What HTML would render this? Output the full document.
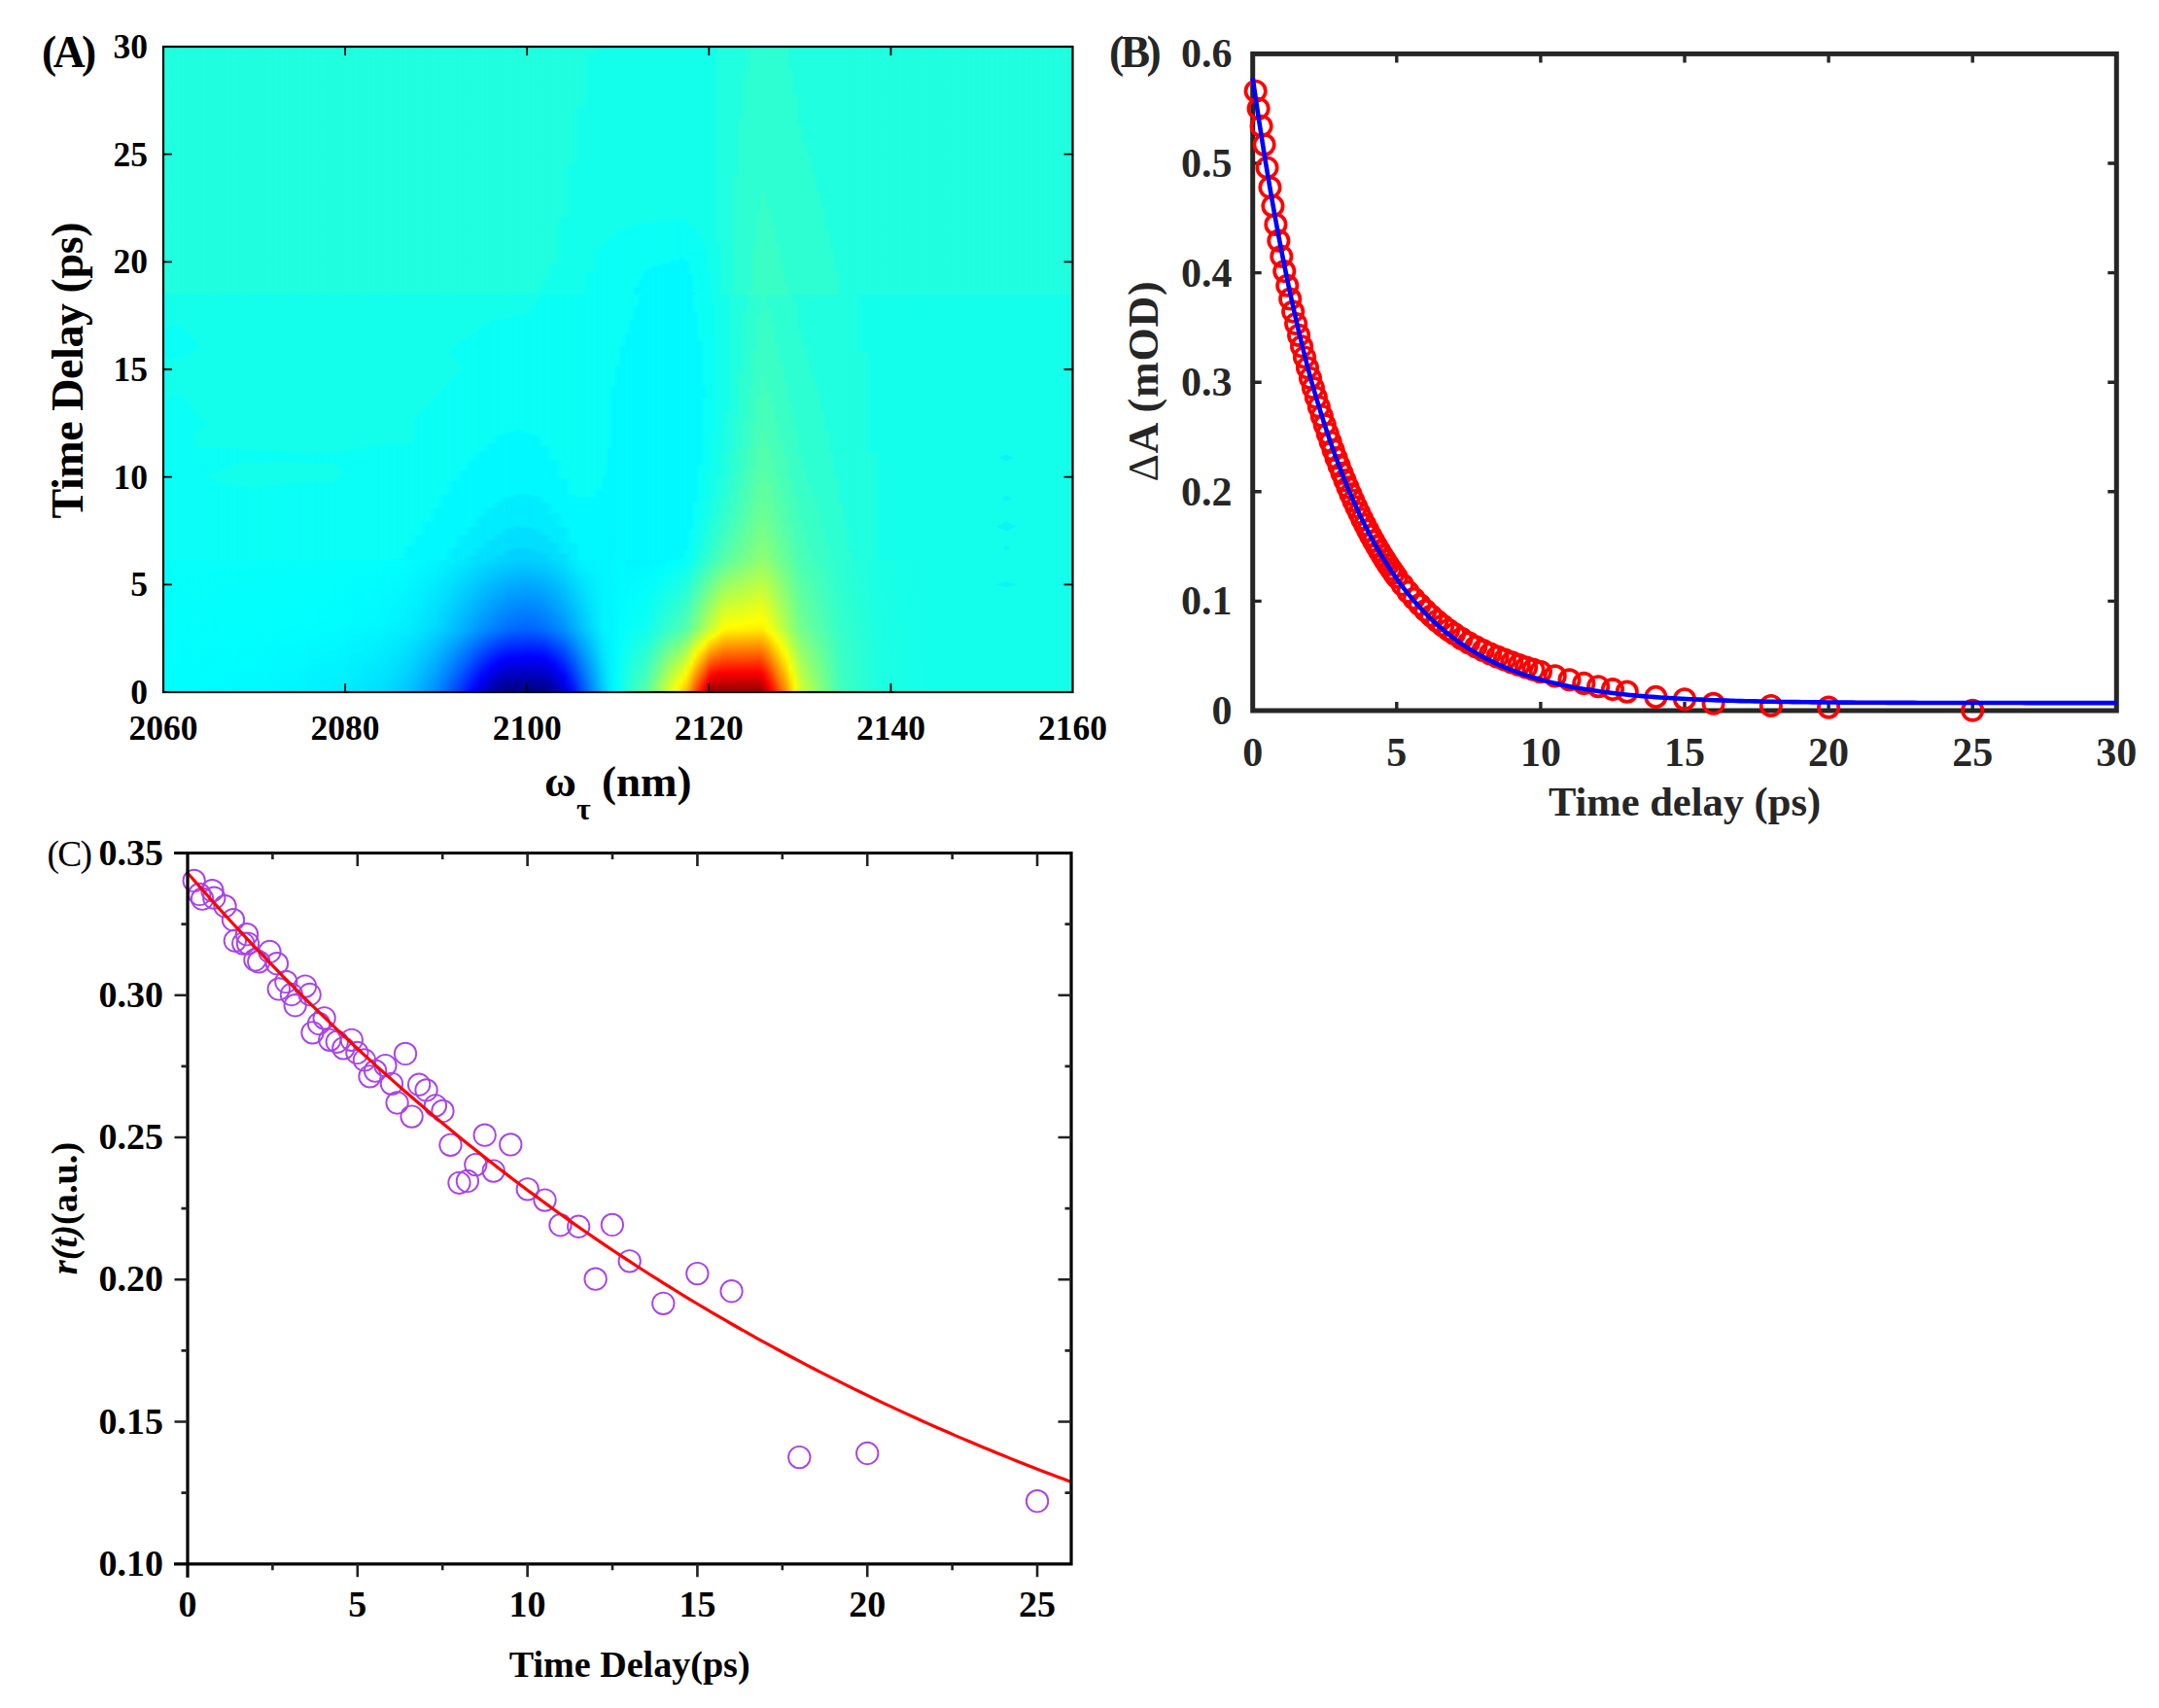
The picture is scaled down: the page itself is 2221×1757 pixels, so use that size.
<!DOCTYPE html>
<html><head><meta charset="utf-8"><title>figure</title>
<style>html,body{margin:0;padding:0;background:#fff;width:2221px;height:1757px;overflow:hidden}svg{display:block}text{font-family:"Liberation Serif","DejaVu Serif",serif;font-weight:bold}</style></head>
<body>
<svg width="2221" height="1757" viewBox="0 0 2221 1757">
<rect width="2221" height="1757" fill="#fff"/>
<defs>
<linearGradient id="h0" x1="0" y1="1" x2="0" y2="0"><stop offset="0" stop-color="#00ffff"/><stop offset=".205" stop-color="#06fff9"/><stop offset=".205" stop-color="#0afff5"/><stop offset=".6167" stop-color="#0afff5"/><stop offset=".6167" stop-color="#20ffdf"/><stop offset="1" stop-color="#20ffdf"/></linearGradient>
<linearGradient id="h1" x1="0" y1="1" x2="0" y2="0"><stop offset="0" stop-color="#00fdff"/><stop offset=".1625" stop-color="#05fffa"/><stop offset=".205" stop-color="#06fff9"/><stop offset=".205" stop-color="#0afff5"/><stop offset=".6167" stop-color="#0afff5"/><stop offset=".6167" stop-color="#20ffdf"/><stop offset="1" stop-color="#20ffdf"/></linearGradient>
<linearGradient id="h2" x1="0" y1="1" x2="0" y2="0"><stop offset="0" stop-color="#00fbff"/><stop offset=".0917" stop-color="#02fffd"/><stop offset=".205" stop-color="#06fff9"/><stop offset=".205" stop-color="#0afff5"/><stop offset=".6167" stop-color="#0afff5"/><stop offset=".6167" stop-color="#20ffdf"/><stop offset="1" stop-color="#20ffdf"/></linearGradient>
<linearGradient id="h3" x1="0" y1="1" x2="0" y2="0"><stop offset="0" stop-color="#00f8ff"/><stop offset=".1" stop-color="#02fffd"/><stop offset=".205" stop-color="#05fffa"/><stop offset=".205" stop-color="#0afff5"/><stop offset=".6167" stop-color="#0afff5"/><stop offset=".6167" stop-color="#20ffdf"/><stop offset="1" stop-color="#20ffdf"/></linearGradient>
<linearGradient id="h4" x1="0" y1="1" x2="0" y2="0"><stop offset="0" stop-color="#00f3ff"/><stop offset=".1125" stop-color="#01fffe"/><stop offset=".205" stop-color="#05fffa"/><stop offset=".205" stop-color="#0afff5"/><stop offset=".6167" stop-color="#0afff5"/><stop offset=".6167" stop-color="#20ffdf"/><stop offset="1" stop-color="#20ffdf"/></linearGradient>
<linearGradient id="h5" x1="0" y1="1" x2="0" y2="0"><stop offset="0" stop-color="#00ecff"/><stop offset=".1125" stop-color="#00fdff"/><stop offset=".205" stop-color="#04fffb"/><stop offset=".205" stop-color="#0afff5"/><stop offset=".6167" stop-color="#0afff5"/><stop offset=".6167" stop-color="#20ffdf"/><stop offset="1" stop-color="#20ffdf"/></linearGradient>
<linearGradient id="h6" x1="0" y1="1" x2="0" y2="0"><stop offset="0" stop-color="#00ddff"/><stop offset=".1083" stop-color="#00f8ff"/><stop offset=".205" stop-color="#02fffd"/><stop offset=".205" stop-color="#0afff5"/><stop offset=".6167" stop-color="#0afff5"/><stop offset=".6167" stop-color="#20ffdf"/><stop offset="1" stop-color="#20ffdf"/></linearGradient>
<linearGradient id="h7" x1="0" y1="1" x2="0" y2="0"><stop offset="0" stop-color="#00d6ff"/><stop offset=".1042" stop-color="#00f5ff"/><stop offset=".205" stop-color="#01fffe"/><stop offset=".205" stop-color="#0afff5"/><stop offset=".6167" stop-color="#0afff5"/><stop offset=".6167" stop-color="#20ffdf"/><stop offset="1" stop-color="#20ffdf"/></linearGradient>
<linearGradient id="h8" x1="0" y1="1" x2="0" y2="0"><stop offset="0" stop-color="#00ceff"/><stop offset=".1042" stop-color="#00f2ff"/><stop offset=".205" stop-color="#00ffff"/><stop offset=".205" stop-color="#00f9ff"/><stop offset=".2083" stop-color="#0afff5"/><stop offset=".6167" stop-color="#0afff5"/><stop offset=".6167" stop-color="#20ffdf"/><stop offset="1" stop-color="#20ffdf"/></linearGradient>
<linearGradient id="h9" x1="0" y1="1" x2="0" y2="0"><stop offset="0" stop-color="#00c2ff"/><stop offset=".1" stop-color="#00edff"/><stop offset=".205" stop-color="#00fdff"/><stop offset=".205" stop-color="#00f9ff"/><stop offset=".225" stop-color="#00f9ff"/><stop offset=".2292" stop-color="#0afff5"/><stop offset=".6167" stop-color="#0afff5"/><stop offset=".6167" stop-color="#20ffdf"/><stop offset="1" stop-color="#20ffdf"/></linearGradient>
<linearGradient id="h10" x1="0" y1="1" x2="0" y2="0"><stop offset="0" stop-color="#00b3ff"/><stop offset=".1" stop-color="#00e7ff"/><stop offset=".205" stop-color="#00fbff"/><stop offset=".205" stop-color="#00f9ff"/><stop offset=".2417" stop-color="#00f9ff"/><stop offset=".2458" stop-color="#0afff5"/><stop offset=".6167" stop-color="#0afff5"/><stop offset=".6167" stop-color="#20ffdf"/><stop offset="1" stop-color="#20ffdf"/></linearGradient>
<linearGradient id="h11" x1="0" y1="1" x2="0" y2="0"><stop offset="0" stop-color="#00a0ff"/><stop offset=".1" stop-color="#00e0ff"/><stop offset=".2083" stop-color="#00f9ff"/><stop offset=".2625" stop-color="#00f9ff"/><stop offset=".2667" stop-color="#0afff5"/><stop offset=".6167" stop-color="#0afff5"/><stop offset=".6167" stop-color="#20ffdf"/><stop offset="1" stop-color="#20ffdf"/></linearGradient>
<linearGradient id="h12" x1="0" y1="1" x2="0" y2="0"><stop offset="0" stop-color="#0089ff"/><stop offset=".1" stop-color="#00d8ff"/><stop offset=".205" stop-color="#00f6ff"/><stop offset=".205" stop-color="#00f9ff"/><stop offset=".2833" stop-color="#00f9ff"/><stop offset=".2875" stop-color="#0afff5"/><stop offset=".6167" stop-color="#0afff5"/><stop offset=".6167" stop-color="#20ffdf"/><stop offset="1" stop-color="#20ffdf"/></linearGradient>
<linearGradient id="h13" x1="0" y1="1" x2="0" y2="0"><stop offset="0" stop-color="#006dff"/><stop offset=".1" stop-color="#00cdff"/><stop offset=".205" stop-color="#00f2ff"/><stop offset=".205" stop-color="#00f9ff"/><stop offset=".3042" stop-color="#00f9ff"/><stop offset=".3083" stop-color="#0afff5"/><stop offset=".6167" stop-color="#0afff5"/><stop offset=".6167" stop-color="#20ffdf"/><stop offset="1" stop-color="#20ffdf"/></linearGradient>
<linearGradient id="h14" x1="0" y1="1" x2="0" y2="0"><stop offset="0" stop-color="#004cff"/><stop offset=".0958" stop-color="#00beff"/><stop offset=".205" stop-color="#00eeff"/><stop offset=".205" stop-color="#00ecff"/><stop offset=".2208" stop-color="#00ecff"/><stop offset=".225" stop-color="#00f9ff"/><stop offset=".325" stop-color="#00f9ff"/><stop offset=".3292" stop-color="#0afff5"/><stop offset=".6167" stop-color="#0afff5"/><stop offset=".6167" stop-color="#20ffdf"/><stop offset="1" stop-color="#20ffdf"/></linearGradient>
<linearGradient id="h15" x1="0" y1="1" x2="0" y2="0"><stop offset="0" stop-color="#0027ff"/><stop offset=".0958" stop-color="#00afff"/><stop offset=".1917" stop-color="#00e2ff"/><stop offset=".205" stop-color="#00e9ff"/><stop offset=".205" stop-color="#00ecff"/><stop offset=".2417" stop-color="#00ecff"/><stop offset=".2458" stop-color="#00f9ff"/><stop offset=".3417" stop-color="#00f9ff"/><stop offset=".3458" stop-color="#0afff5"/><stop offset=".6167" stop-color="#0afff5"/><stop offset=".6167" stop-color="#20ffdf"/><stop offset="1" stop-color="#20ffdf"/></linearGradient>
<linearGradient id="h16" x1="0" y1="1" x2="0" y2="0"><stop offset="0" stop-color="#0000fe"/><stop offset=".0958" stop-color="#00a0ff"/><stop offset=".1167" stop-color="#00afff"/><stop offset=".205" stop-color="#00e4ff"/><stop offset=".205" stop-color="#00dfff"/><stop offset=".2083" stop-color="#00dfff"/><stop offset=".2125" stop-color="#00ecff"/><stop offset=".2542" stop-color="#00ecff"/><stop offset=".2583" stop-color="#00f9ff"/><stop offset=".3583" stop-color="#00f9ff"/><stop offset=".3625" stop-color="#0afff5"/><stop offset=".6167" stop-color="#0afff5"/><stop offset=".6167" stop-color="#20ffdf"/><stop offset="1" stop-color="#20ffdf"/></linearGradient>
<linearGradient id="h17" x1="0" y1="1" x2="0" y2="0"><stop offset="0" stop-color="#0000d5"/><stop offset=".0208" stop-color="#0000fd"/><stop offset=".0958" stop-color="#0090ff"/><stop offset=".1083" stop-color="#009bff"/><stop offset=".205" stop-color="#00dfff"/><stop offset=".2208" stop-color="#00dfff"/><stop offset=".225" stop-color="#00ecff"/><stop offset=".2708" stop-color="#00ecff"/><stop offset=".275" stop-color="#00f9ff"/><stop offset=".3708" stop-color="#00f9ff"/><stop offset=".375" stop-color="#0afff5"/><stop offset=".6167" stop-color="#0afff5"/><stop offset=".6167" stop-color="#20ffdf"/><stop offset="1" stop-color="#20ffdf"/></linearGradient>
<linearGradient id="h18" x1="0" y1="1" x2="0" y2="0"><stop offset="0" stop-color="#0000ae"/><stop offset=".0375" stop-color="#0001ff"/><stop offset=".0958" stop-color="#0081ff"/><stop offset=".1042" stop-color="#008aff"/><stop offset=".205" stop-color="#00daff"/><stop offset=".205" stop-color="#00dfff"/><stop offset=".2333" stop-color="#00dfff"/><stop offset=".2375" stop-color="#00ecff"/><stop offset=".2833" stop-color="#00ecff"/><stop offset=".2875" stop-color="#00f9ff"/><stop offset=".3833" stop-color="#00f9ff"/><stop offset=".3875" stop-color="#0afff5"/><stop offset=".6167" stop-color="#0afff5"/><stop offset=".6167" stop-color="#20ffdf"/><stop offset="1" stop-color="#20ffdf"/></linearGradient>
<linearGradient id="h19" x1="0" y1="1" x2="0" y2="0"><stop offset="0" stop-color="#00008b"/><stop offset=".0458" stop-color="#0000fa"/><stop offset=".05" stop-color="#0005ff"/><stop offset=".0958" stop-color="#0074ff"/><stop offset=".1042" stop-color="#007eff"/><stop offset=".205" stop-color="#00d6ff"/><stop offset=".205" stop-color="#00d2ff"/><stop offset=".2083" stop-color="#00d2ff"/><stop offset=".2125" stop-color="#00dfff"/><stop offset=".2417" stop-color="#00dfff"/><stop offset=".2458" stop-color="#00ecff"/><stop offset=".2917" stop-color="#00ecff"/><stop offset=".2958" stop-color="#00f9ff"/><stop offset=".3958" stop-color="#00f9ff"/><stop offset=".4" stop-color="#0afff5"/><stop offset=".6167" stop-color="#0afff5"/><stop offset=".6167" stop-color="#20ffdf"/><stop offset="1" stop-color="#20ffdf"/></linearGradient>
<linearGradient id="h20" x1="0" y1="1" x2="0" y2="0"><stop offset="0" stop-color="#000080"/><stop offset=".05" stop-color="#0000f9"/><stop offset=".0542" stop-color="#0004ff"/><stop offset=".0958" stop-color="#0069ff"/><stop offset=".1042" stop-color="#0074ff"/><stop offset=".205" stop-color="#00d2ff"/><stop offset=".2167" stop-color="#00d2ff"/><stop offset=".2208" stop-color="#00dfff"/><stop offset=".25" stop-color="#00dfff"/><stop offset=".2542" stop-color="#00ecff"/><stop offset=".3" stop-color="#00ecff"/><stop offset=".3042" stop-color="#00f9ff"/><stop offset=".4" stop-color="#00f9ff"/><stop offset=".4042" stop-color="#0afff5"/><stop offset=".6167" stop-color="#0afff5"/><stop offset=".6167" stop-color="#20ffdf"/><stop offset="1" stop-color="#20ffdf"/></linearGradient>
<linearGradient id="h21" x1="0" y1="1" x2="0" y2="0"><stop offset="0" stop-color="#000080"/><stop offset=".0542" stop-color="#0001ff"/><stop offset=".0958" stop-color="#0063ff"/><stop offset=".1042" stop-color="#006eff"/><stop offset=".205" stop-color="#00d0ff"/><stop offset=".205" stop-color="#00d2ff"/><stop offset=".2208" stop-color="#00d2ff"/><stop offset=".225" stop-color="#00dfff"/><stop offset=".2542" stop-color="#00dfff"/><stop offset=".2583" stop-color="#00ecff"/><stop offset=".3042" stop-color="#00ecff"/><stop offset=".3083" stop-color="#00f9ff"/><stop offset=".4042" stop-color="#00f9ff"/><stop offset=".4083" stop-color="#0afff5"/><stop offset=".6167" stop-color="#0afff5"/><stop offset=".6167" stop-color="#20ffdf"/><stop offset="1" stop-color="#20ffdf"/></linearGradient>
<linearGradient id="h22" x1="0" y1="1" x2="0" y2="0"><stop offset="0" stop-color="#000080"/><stop offset=".0542" stop-color="#0000fe"/><stop offset=".0958" stop-color="#0061ff"/><stop offset=".1042" stop-color="#006cff"/><stop offset=".205" stop-color="#00cfff"/><stop offset=".205" stop-color="#00d2ff"/><stop offset=".2208" stop-color="#00d2ff"/><stop offset=".225" stop-color="#00dfff"/><stop offset=".2542" stop-color="#00dfff"/><stop offset=".2583" stop-color="#00ecff"/><stop offset=".3042" stop-color="#00ecff"/><stop offset=".3083" stop-color="#00f9ff"/><stop offset=".4" stop-color="#00f9ff"/><stop offset=".4042" stop-color="#0afff5"/><stop offset=".6167" stop-color="#0afff5"/><stop offset=".6167" stop-color="#20ffdf"/><stop offset="1" stop-color="#20ffdf"/></linearGradient>
<linearGradient id="h23" x1="0" y1="1" x2="0" y2="0"><stop offset="0" stop-color="#000080"/><stop offset=".0542" stop-color="#0001ff"/><stop offset=".0958" stop-color="#0064ff"/><stop offset=".1042" stop-color="#006fff"/><stop offset=".205" stop-color="#00d2ff"/><stop offset=".2167" stop-color="#00d2ff"/><stop offset=".2208" stop-color="#00dfff"/><stop offset=".25" stop-color="#00dfff"/><stop offset=".2542" stop-color="#00ecff"/><stop offset=".3" stop-color="#00ecff"/><stop offset=".3042" stop-color="#00f9ff"/><stop offset=".3958" stop-color="#00f9ff"/><stop offset=".4" stop-color="#0afff5"/><stop offset=".6167" stop-color="#0afff5"/><stop offset=".6167" stop-color="#13ffec"/><stop offset=".6208" stop-color="#20ffdf"/><stop offset="1" stop-color="#20ffdf"/></linearGradient>
<linearGradient id="h24" x1="0" y1="1" x2="0" y2="0"><stop offset="0" stop-color="#000080"/><stop offset=".05" stop-color="#0000fb"/><stop offset=".0542" stop-color="#0006ff"/><stop offset=".0958" stop-color="#006eff"/><stop offset=".1042" stop-color="#0078ff"/><stop offset=".205" stop-color="#00d4ff"/><stop offset=".205" stop-color="#00d2ff"/><stop offset=".2125" stop-color="#00d2ff"/><stop offset=".2167" stop-color="#00dfff"/><stop offset=".2417" stop-color="#00dfff"/><stop offset=".2458" stop-color="#00ecff"/><stop offset=".2917" stop-color="#00ecff"/><stop offset=".2958" stop-color="#00f9ff"/><stop offset=".3792" stop-color="#00f9ff"/><stop offset=".3833" stop-color="#0afff5"/><stop offset=".6167" stop-color="#0afff5"/><stop offset=".6167" stop-color="#13ffec"/><stop offset=".6375" stop-color="#13ffec"/><stop offset=".6417" stop-color="#20ffdf"/><stop offset="1" stop-color="#20ffdf"/></linearGradient>
<linearGradient id="h25" x1="0" y1="1" x2="0" y2="0"><stop offset="0" stop-color="#00009e"/><stop offset=".0417" stop-color="#0000fe"/><stop offset=".0958" stop-color="#007cff"/><stop offset=".1042" stop-color="#0086ff"/><stop offset=".205" stop-color="#00daff"/><stop offset=".205" stop-color="#00dfff"/><stop offset=".2292" stop-color="#00dfff"/><stop offset=".2333" stop-color="#00ecff"/><stop offset=".275" stop-color="#00ecff"/><stop offset=".2792" stop-color="#00f9ff"/><stop offset=".3583" stop-color="#00f9ff"/><stop offset=".3625" stop-color="#0afff5"/><stop offset=".6167" stop-color="#0afff5"/><stop offset=".6167" stop-color="#13ffec"/><stop offset=".6625" stop-color="#13ffec"/><stop offset=".6667" stop-color="#20ffdf"/><stop offset="1" stop-color="#20ffdf"/></linearGradient>
<linearGradient id="h26" x1="0" y1="1" x2="0" y2="0"><stop offset="0" stop-color="#0000cd"/><stop offset=".025" stop-color="#0000ff"/><stop offset=".0958" stop-color="#008fff"/><stop offset=".1083" stop-color="#009bff"/><stop offset=".205" stop-color="#00e2ff"/><stop offset=".205" stop-color="#00dfff"/><stop offset=".2125" stop-color="#00dfff"/><stop offset=".2167" stop-color="#00ecff"/><stop offset=".2542" stop-color="#00ecff"/><stop offset=".2583" stop-color="#00f9ff"/><stop offset=".3292" stop-color="#00f9ff"/><stop offset=".3333" stop-color="#0afff5"/><stop offset=".6167" stop-color="#0afff5"/><stop offset=".6167" stop-color="#13ffec"/><stop offset=".7333" stop-color="#13ffec"/><stop offset=".7375" stop-color="#20ffdf"/><stop offset="1" stop-color="#20ffdf"/></linearGradient>
<linearGradient id="h27" x1="0" y1="1" x2="0" y2="0"><stop offset="0" stop-color="#0005ff"/><stop offset=".0958" stop-color="#00a6ff"/><stop offset=".1167" stop-color="#00b5ff"/><stop offset=".205" stop-color="#00ecff"/><stop offset=".2292" stop-color="#00ecff"/><stop offset=".2333" stop-color="#00f9ff"/><stop offset=".3042" stop-color="#00f9ff"/><stop offset=".3083" stop-color="#0afff5"/><stop offset=".6167" stop-color="#0afff5"/><stop offset=".6167" stop-color="#13ffec"/><stop offset=".8167" stop-color="#13ffec"/><stop offset=".8208" stop-color="#20ffdf"/><stop offset="1" stop-color="#20ffdf"/></linearGradient>
<linearGradient id="h28" x1="0" y1="1" x2="0" y2="0"><stop offset="0" stop-color="#0045ff"/><stop offset=".0958" stop-color="#00bfff"/><stop offset=".205" stop-color="#00f4ff"/><stop offset=".205" stop-color="#00f9ff"/><stop offset=".3" stop-color="#00f9ff"/><stop offset=".3042" stop-color="#0afff5"/><stop offset=".6167" stop-color="#0afff5"/><stop offset=".6167" stop-color="#13ffec"/><stop offset=".9042" stop-color="#13ffec"/><stop offset=".9083" stop-color="#20ffdf"/><stop offset="1" stop-color="#20ffdf"/></linearGradient>
<linearGradient id="h29" x1="0" y1="1" x2="0" y2="0"><stop offset="0" stop-color="#0081ff"/><stop offset=".1" stop-color="#00d9ff"/><stop offset=".205" stop-color="#00f6ff"/><stop offset=".205" stop-color="#00f9ff"/><stop offset=".3" stop-color="#00f9ff"/><stop offset=".3042" stop-color="#0afff5"/><stop offset=".65" stop-color="#0afff5"/><stop offset=".6542" stop-color="#13ffec"/><stop offset=".9875" stop-color="#13ffec"/><stop offset=".9917" stop-color="#20ffdf"/><stop offset="1" stop-color="#20ffdf"/></linearGradient>
<linearGradient id="h30" x1="0" y1="1" x2="0" y2="0"><stop offset="0" stop-color="#00b8ff"/><stop offset=".1" stop-color="#00edff"/><stop offset=".205" stop-color="#00f6ff"/><stop offset=".205" stop-color="#00f9ff"/><stop offset=".3125" stop-color="#00f9ff"/><stop offset=".3167" stop-color="#0afff5"/><stop offset=".6833" stop-color="#0afff5"/><stop offset=".6875" stop-color="#13ffec"/><stop offset="1" stop-color="#13ffec"/></linearGradient>
<linearGradient id="h31" x1="0" y1="1" x2="0" y2="0"><stop offset="0" stop-color="#00d1ff"/><stop offset=".1" stop-color="#00f6ff"/><stop offset=".205" stop-color="#00f7ff"/><stop offset=".205" stop-color="#00f9ff"/><stop offset=".3333" stop-color="#00f9ff"/><stop offset=".3375" stop-color="#0afff5"/><stop offset=".6917" stop-color="#0afff5"/><stop offset=".6958" stop-color="#13ffec"/><stop offset="1" stop-color="#13ffec"/></linearGradient>
<linearGradient id="h32" x1="0" y1="1" x2="0" y2="0"><stop offset="0" stop-color="#00e8ff"/><stop offset=".1125" stop-color="#00f6ff"/><stop offset=".3583" stop-color="#00f9ff"/><stop offset=".375" stop-color="#00f9ff"/><stop offset=".3792" stop-color="#0afff5"/><stop offset=".7" stop-color="#0afff5"/><stop offset=".7042" stop-color="#13ffec"/><stop offset="1" stop-color="#13ffec"/></linearGradient>
<linearGradient id="h33" x1="0" y1="1" x2="0" y2="0"><stop offset="0" stop-color="#00f6ff"/><stop offset=".4708" stop-color="#00f9ff"/><stop offset=".475" stop-color="#0afff5"/><stop offset=".7042" stop-color="#0afff5"/><stop offset=".7083" stop-color="#13ffec"/><stop offset="1" stop-color="#13ffec"/></linearGradient>
<linearGradient id="h34" x1="0" y1="1" x2="0" y2="0"><stop offset="0" stop-color="#04fffb"/><stop offset=".075" stop-color="#00fcff"/><stop offset=".225" stop-color="#00f9ff"/><stop offset=".5042" stop-color="#00f9ff"/><stop offset=".5083" stop-color="#0afff5"/><stop offset=".7125" stop-color="#0afff5"/><stop offset=".7167" stop-color="#13ffec"/><stop offset="1" stop-color="#13ffec"/></linearGradient>
<linearGradient id="h35" x1="0" y1="1" x2="0" y2="0"><stop offset="0" stop-color="#15ffea"/><stop offset=".1" stop-color="#00feff"/><stop offset=".205" stop-color="#00f9ff"/><stop offset=".5333" stop-color="#00f9ff"/><stop offset=".5375" stop-color="#0afff5"/><stop offset=".7125" stop-color="#0afff5"/><stop offset=".7167" stop-color="#13ffec"/><stop offset="1" stop-color="#13ffec"/></linearGradient>
<linearGradient id="h36" x1="0" y1="1" x2="0" y2="0"><stop offset="0" stop-color="#24ffdb"/><stop offset=".1042" stop-color="#03fffc"/><stop offset=".1625" stop-color="#00fbff"/><stop offset=".205" stop-color="#00f6ff"/><stop offset=".205" stop-color="#00f9ff"/><stop offset=".5542" stop-color="#00f9ff"/><stop offset=".5583" stop-color="#0afff5"/><stop offset=".7167" stop-color="#0afff5"/><stop offset=".7208" stop-color="#13ffec"/><stop offset="1" stop-color="#13ffec"/></linearGradient>
<linearGradient id="h37" x1="0" y1="1" x2="0" y2="0"><stop offset="0" stop-color="#32ffcd"/><stop offset=".1" stop-color="#06fff9"/><stop offset=".1542" stop-color="#00fdff"/><stop offset=".205" stop-color="#00f6ff"/><stop offset=".205" stop-color="#00f9ff"/><stop offset=".575" stop-color="#00f9ff"/><stop offset=".5792" stop-color="#0afff5"/><stop offset=".7208" stop-color="#0afff5"/><stop offset=".725" stop-color="#13ffec"/><stop offset="1" stop-color="#13ffec"/></linearGradient>
<linearGradient id="h38" x1="0" y1="1" x2="0" y2="0"><stop offset="0" stop-color="#3fffc0"/><stop offset=".1" stop-color="#09fff6"/><stop offset=".1625" stop-color="#00fdff"/><stop offset=".205" stop-color="#00f6ff"/><stop offset=".205" stop-color="#00f9ff"/><stop offset=".5958" stop-color="#00f9ff"/><stop offset=".6" stop-color="#0afff5"/><stop offset=".6167" stop-color="#0afff5"/><stop offset=".6167" stop-color="#00f9ff"/><stop offset=".625" stop-color="#00f9ff"/><stop offset=".6292" stop-color="#0afff5"/><stop offset=".7208" stop-color="#0afff5"/><stop offset=".725" stop-color="#13ffec"/><stop offset="1" stop-color="#13ffec"/></linearGradient>
<linearGradient id="h39" x1="0" y1="1" x2="0" y2="0"><stop offset="0" stop-color="#4affb5"/><stop offset=".1" stop-color="#0bfff4"/><stop offset=".1667" stop-color="#00fdff"/><stop offset=".205" stop-color="#00f6ff"/><stop offset=".205" stop-color="#00f9ff"/><stop offset=".6125" stop-color="#00f9ff"/><stop offset=".6167" stop-color="#0afff5"/><stop offset=".6167" stop-color="#00f9ff"/><stop offset=".6375" stop-color="#00f9ff"/><stop offset=".6417" stop-color="#0afff5"/><stop offset=".725" stop-color="#0afff5"/><stop offset=".7292" stop-color="#13ffec"/><stop offset="1" stop-color="#13ffec"/></linearGradient>
<linearGradient id="h40" x1="0" y1="1" x2="0" y2="0"><stop offset="0" stop-color="#55ffaa"/><stop offset=".1" stop-color="#0dfff2"/><stop offset=".1708" stop-color="#00fdff"/><stop offset=".205" stop-color="#00f6ff"/><stop offset=".205" stop-color="#00f9ff"/><stop offset=".65" stop-color="#00f9ff"/><stop offset=".6542" stop-color="#0afff5"/><stop offset=".725" stop-color="#0afff5"/><stop offset=".7292" stop-color="#13ffec"/><stop offset="1" stop-color="#13ffec"/></linearGradient>
<linearGradient id="h41" x1="0" y1="1" x2="0" y2="0"><stop offset="0" stop-color="#6aff95"/><stop offset=".1" stop-color="#13ffec"/><stop offset=".175" stop-color="#00feff"/><stop offset=".205" stop-color="#00f6ff"/><stop offset=".205" stop-color="#00f9ff"/><stop offset=".6542" stop-color="#00f9ff"/><stop offset=".6583" stop-color="#0afff5"/><stop offset=".725" stop-color="#0afff5"/><stop offset=".7292" stop-color="#13ffec"/><stop offset="1" stop-color="#13ffec"/></linearGradient>
<linearGradient id="h42" x1="0" y1="1" x2="0" y2="0"><stop offset="0" stop-color="#86ff79"/><stop offset=".0958" stop-color="#1effe1"/><stop offset=".1833" stop-color="#00fdff"/><stop offset=".205" stop-color="#00f6ff"/><stop offset=".205" stop-color="#00f9ff"/><stop offset=".6583" stop-color="#00f9ff"/><stop offset=".6625" stop-color="#0afff5"/><stop offset=".725" stop-color="#0afff5"/><stop offset=".7292" stop-color="#13ffec"/><stop offset="1" stop-color="#13ffec"/></linearGradient>
<linearGradient id="h43" x1="0" y1="1" x2="0" y2="0"><stop offset="0" stop-color="#a2ff5d"/><stop offset=".0958" stop-color="#27ffd8"/><stop offset=".1875" stop-color="#00feff"/><stop offset=".205" stop-color="#00f6ff"/><stop offset=".205" stop-color="#00f9ff"/><stop offset=".6583" stop-color="#00f9ff"/><stop offset=".6625" stop-color="#0afff5"/><stop offset=".7292" stop-color="#0afff5"/><stop offset=".7333" stop-color="#13ffec"/><stop offset="1" stop-color="#13ffec"/></linearGradient>
<linearGradient id="h44" x1="0" y1="1" x2="0" y2="0"><stop offset="0" stop-color="#bdff42"/><stop offset=".0958" stop-color="#30ffcf"/><stop offset=".1292" stop-color="#1effe1"/><stop offset=".1917" stop-color="#00ffff"/><stop offset=".2083" stop-color="#00f9ff"/><stop offset=".6625" stop-color="#00f9ff"/><stop offset=".6667" stop-color="#0afff5"/><stop offset=".7292" stop-color="#0afff5"/><stop offset=".7333" stop-color="#13ffec"/><stop offset="1" stop-color="#13ffec"/></linearGradient>
<linearGradient id="h45" x1="0" y1="1" x2="0" y2="0"><stop offset="0" stop-color="#d8ff27"/><stop offset=".0958" stop-color="#38ffc7"/><stop offset=".1125" stop-color="#2dffd2"/><stop offset=".1958" stop-color="#00ffff"/><stop offset=".205" stop-color="#00f9ff"/><stop offset=".6625" stop-color="#00f9ff"/><stop offset=".6667" stop-color="#0afff5"/><stop offset=".7292" stop-color="#0afff5"/><stop offset=".7333" stop-color="#13ffec"/><stop offset="1" stop-color="#13ffec"/></linearGradient>
<linearGradient id="h46" x1="0" y1="1" x2="0" y2="0"><stop offset="0" stop-color="#f2ff0d"/><stop offset=".0958" stop-color="#40ffbf"/><stop offset=".1083" stop-color="#36ffc9"/><stop offset=".2" stop-color="#00ffff"/><stop offset=".205" stop-color="#00fcff"/><stop offset=".205" stop-color="#00f9ff"/><stop offset=".6667" stop-color="#00f9ff"/><stop offset=".6708" stop-color="#0afff5"/><stop offset=".7292" stop-color="#0afff5"/><stop offset=".7333" stop-color="#13ffec"/><stop offset="1" stop-color="#13ffec"/></linearGradient>
<linearGradient id="h47" x1="0" y1="1" x2="0" y2="0"><stop offset="0" stop-color="#fff200"/><stop offset=".0042" stop-color="#fffb00"/><stop offset=".0083" stop-color="#fbff04"/><stop offset=".0958" stop-color="#48ffb7"/><stop offset=".1042" stop-color="#40ffbf"/><stop offset=".205" stop-color="#00feff"/><stop offset=".205" stop-color="#00f9ff"/><stop offset=".6667" stop-color="#00f9ff"/><stop offset=".6708" stop-color="#0afff5"/><stop offset=".7292" stop-color="#0afff5"/><stop offset=".7333" stop-color="#13ffec"/><stop offset="1" stop-color="#13ffec"/></linearGradient>
<linearGradient id="h48" x1="0" y1="1" x2="0" y2="0"><stop offset="0" stop-color="#ffd800"/><stop offset=".0167" stop-color="#fffd00"/><stop offset=".0958" stop-color="#50ffaf"/><stop offset=".1042" stop-color="#48ffb7"/><stop offset=".205" stop-color="#00ffff"/><stop offset=".205" stop-color="#0afff5"/><stop offset=".2083" stop-color="#00f9ff"/><stop offset=".6708" stop-color="#00f9ff"/><stop offset=".675" stop-color="#0afff5"/><stop offset=".7292" stop-color="#0afff5"/><stop offset=".7333" stop-color="#13ffec"/><stop offset="1" stop-color="#13ffec"/></linearGradient>
<linearGradient id="h49" x1="0" y1="1" x2="0" y2="0"><stop offset="0" stop-color="#ffb900"/><stop offset=".0292" stop-color="#feff01"/><stop offset=".0958" stop-color="#5bffa4"/><stop offset=".1042" stop-color="#52ffad"/><stop offset=".205" stop-color="#04fffb"/><stop offset=".205" stop-color="#0afff5"/><stop offset=".2167" stop-color="#0afff5"/><stop offset=".2208" stop-color="#00f9ff"/><stop offset=".6667" stop-color="#00f9ff"/><stop offset=".6708" stop-color="#0afff5"/><stop offset=".7292" stop-color="#0afff5"/><stop offset=".7333" stop-color="#13ffec"/><stop offset="1" stop-color="#13ffec"/></linearGradient>
<linearGradient id="h50" x1="0" y1="1" x2="0" y2="0"><stop offset="0" stop-color="#ff8200"/><stop offset=".0417" stop-color="#fff700"/><stop offset=".0458" stop-color="#fcff03"/><stop offset=".0958" stop-color="#71ff8e"/><stop offset=".1" stop-color="#69ff96"/><stop offset=".205" stop-color="#0efff1"/><stop offset=".205" stop-color="#13ffec"/><stop offset=".2083" stop-color="#0afff5"/><stop offset=".25" stop-color="#0afff5"/><stop offset=".2542" stop-color="#00f9ff"/><stop offset=".6458" stop-color="#00f9ff"/><stop offset=".65" stop-color="#0afff5"/><stop offset=".7208" stop-color="#0afff5"/><stop offset=".725" stop-color="#13ffec"/><stop offset="1" stop-color="#13ffec"/></linearGradient>
<linearGradient id="h51" x1="0" y1="1" x2="0" y2="0"><stop offset="0" stop-color="#ff4c00"/><stop offset=".0542" stop-color="#fff600"/><stop offset=".0583" stop-color="#fbff04"/><stop offset=".0958" stop-color="#86ff79"/><stop offset=".1" stop-color="#7eff81"/><stop offset=".205" stop-color="#18ffe7"/><stop offset=".205" stop-color="#13ffec"/><stop offset=".2333" stop-color="#13ffec"/><stop offset=".2375" stop-color="#0afff5"/><stop offset=".2917" stop-color="#0afff5"/><stop offset=".2958" stop-color="#00f9ff"/><stop offset=".5875" stop-color="#00f9ff"/><stop offset=".5917" stop-color="#0afff5"/><stop offset=".6167" stop-color="#0afff5"/><stop offset=".6167" stop-color="#00f9ff"/><stop offset=".6208" stop-color="#0afff5"/><stop offset=".7167" stop-color="#0afff5"/><stop offset=".7208" stop-color="#13ffec"/><stop offset="1" stop-color="#13ffec"/></linearGradient>
<linearGradient id="h52" x1="0" y1="1" x2="0" y2="0"><stop offset="0" stop-color="#ff1600"/><stop offset=".0667" stop-color="#fffd00"/><stop offset=".0958" stop-color="#9cff63"/><stop offset=".1" stop-color="#93ff6c"/><stop offset=".205" stop-color="#22ffdd"/><stop offset=".205" stop-color="#20ffdf"/><stop offset=".2208" stop-color="#20ffdf"/><stop offset=".225" stop-color="#13ffec"/><stop offset=".2625" stop-color="#13ffec"/><stop offset=".2667" stop-color="#0afff5"/><stop offset=".35" stop-color="#0afff5"/><stop offset=".3542" stop-color="#00f9ff"/><stop offset=".5417" stop-color="#00f9ff"/><stop offset=".5458" stop-color="#0afff5"/><stop offset=".7042" stop-color="#0afff5"/><stop offset=".7083" stop-color="#13ffec"/><stop offset="1" stop-color="#13ffec"/></linearGradient>
<linearGradient id="h53" x1="0" y1="1" x2="0" y2="0"><stop offset="0" stop-color="#df0000"/><stop offset=".0083" stop-color="#ff0000"/><stop offset=".075" stop-color="#fffe00"/><stop offset=".0958" stop-color="#b1ff4e"/><stop offset=".1" stop-color="#a7ff58"/><stop offset=".205" stop-color="#2dffd2"/><stop offset=".2125" stop-color="#2dffd2"/><stop offset=".2167" stop-color="#20ffdf"/><stop offset=".2458" stop-color="#20ffdf"/><stop offset=".25" stop-color="#13ffec"/><stop offset=".2958" stop-color="#13ffec"/><stop offset=".3" stop-color="#0afff5"/><stop offset=".4542" stop-color="#0afff5"/><stop offset=".4583" stop-color="#00f9ff"/><stop offset=".4708" stop-color="#00f9ff"/><stop offset=".475" stop-color="#0afff5"/><stop offset=".6917" stop-color="#0afff5"/><stop offset=".6958" stop-color="#13ffec"/><stop offset="1" stop-color="#13ffec"/></linearGradient>
<linearGradient id="h54" x1="0" y1="1" x2="0" y2="0"><stop offset="0" stop-color="#a90000"/><stop offset=".0208" stop-color="#ff0000"/><stop offset=".0792" stop-color="#fff200"/><stop offset=".0833" stop-color="#faff05"/><stop offset=".0958" stop-color="#c6ff39"/><stop offset=".1" stop-color="#bcff43"/><stop offset=".205" stop-color="#36ffc9"/><stop offset=".205" stop-color="#39ffc6"/><stop offset=".2083" stop-color="#39ffc6"/><stop offset=".2125" stop-color="#2dffd2"/><stop offset=".2333" stop-color="#2dffd2"/><stop offset=".2375" stop-color="#20ffdf"/><stop offset=".2708" stop-color="#20ffdf"/><stop offset=".275" stop-color="#13ffec"/><stop offset=".3375" stop-color="#13ffec"/><stop offset=".3417" stop-color="#0afff5"/><stop offset=".65" stop-color="#0afff5"/><stop offset=".6542" stop-color="#13ffec"/><stop offset="1" stop-color="#13ffec"/></linearGradient>
<linearGradient id="h55" x1="0" y1="1" x2="0" y2="0"><stop offset="0" stop-color="#8f0000"/><stop offset=".025" stop-color="#f80000"/><stop offset=".0292" stop-color="#ff0a00"/><stop offset=".0875" stop-color="#feff01"/><stop offset=".0958" stop-color="#dbff24"/><stop offset=".1" stop-color="#d0ff2f"/><stop offset=".205" stop-color="#40ffbf"/><stop offset=".205" stop-color="#46ffb9"/><stop offset=".2083" stop-color="#39ffc6"/><stop offset=".225" stop-color="#39ffc6"/><stop offset=".2292" stop-color="#2dffd2"/><stop offset=".2542" stop-color="#2dffd2"/><stop offset=".2583" stop-color="#20ffdf"/><stop offset=".3" stop-color="#20ffdf"/><stop offset=".3042" stop-color="#13ffec"/><stop offset=".3958" stop-color="#13ffec"/><stop offset=".4" stop-color="#0afff5"/><stop offset=".6" stop-color="#0afff5"/><stop offset=".6042" stop-color="#13ffec"/><stop offset="1" stop-color="#13ffec"/></linearGradient>
<linearGradient id="h56" x1="0" y1="1" x2="0" y2="0"><stop offset="0" stop-color="#8f0000"/><stop offset=".025" stop-color="#f30000"/><stop offset=".0292" stop-color="#ff0400"/><stop offset=".0917" stop-color="#fffe00"/><stop offset=".0958" stop-color="#f0ff0f"/><stop offset=".1" stop-color="#e5ff1a"/><stop offset=".205" stop-color="#4affb5"/><stop offset=".205" stop-color="#46ffb9"/><stop offset=".2167" stop-color="#46ffb9"/><stop offset=".2208" stop-color="#39ffc6"/><stop offset=".2417" stop-color="#39ffc6"/><stop offset=".2458" stop-color="#2dffd2"/><stop offset=".275" stop-color="#2dffd2"/><stop offset=".2792" stop-color="#20ffdf"/><stop offset=".3333" stop-color="#20ffdf"/><stop offset=".3375" stop-color="#13ffec"/><stop offset=".6917" stop-color="#13ffec"/><stop offset=".6958" stop-color="#20ffdf"/><stop offset="1" stop-color="#20ffdf"/></linearGradient>
<linearGradient id="h57" x1="0" y1="1" x2="0" y2="0"><stop offset="0" stop-color="#8f0000"/><stop offset=".0292" stop-color="#fd0000"/><stop offset=".0458" stop-color="#ff3d00"/><stop offset=".0958" stop-color="#fffa00"/><stop offset=".1" stop-color="#faff05"/><stop offset=".205" stop-color="#53ffac"/><stop offset=".2125" stop-color="#53ffac"/><stop offset=".2167" stop-color="#46ffb9"/><stop offset=".2333" stop-color="#46ffb9"/><stop offset=".2375" stop-color="#39ffc6"/><stop offset=".2625" stop-color="#39ffc6"/><stop offset=".2667" stop-color="#2dffd2"/><stop offset=".3" stop-color="#2dffd2"/><stop offset=".3042" stop-color="#20ffdf"/><stop offset=".3708" stop-color="#20ffdf"/><stop offset=".375" stop-color="#13ffec"/><stop offset=".6167" stop-color="#13ffec"/><stop offset=".6167" stop-color="#20ffdf"/><stop offset="1" stop-color="#20ffdf"/></linearGradient>
<linearGradient id="h58" x1="0" y1="1" x2="0" y2="0"><stop offset="0" stop-color="#8f0000"/><stop offset=".0292" stop-color="#fb0000"/><stop offset=".0333" stop-color="#ff0b00"/><stop offset=".0958" stop-color="#fff200"/><stop offset=".1" stop-color="#fffd00"/><stop offset=".1125" stop-color="#eeff11"/><stop offset=".205" stop-color="#5cffa3"/><stop offset=".205" stop-color="#60ff9f"/><stop offset=".2083" stop-color="#60ff9f"/><stop offset=".2125" stop-color="#53ffac"/><stop offset=".225" stop-color="#53ffac"/><stop offset=".2292" stop-color="#46ffb9"/><stop offset=".25" stop-color="#46ffb9"/><stop offset=".2542" stop-color="#39ffc6"/><stop offset=".2792" stop-color="#39ffc6"/><stop offset=".2833" stop-color="#2dffd2"/><stop offset=".3292" stop-color="#2dffd2"/><stop offset=".3333" stop-color="#20ffdf"/><stop offset=".4333" stop-color="#20ffdf"/><stop offset=".4375" stop-color="#13ffec"/><stop offset=".6167" stop-color="#13ffec"/><stop offset=".6167" stop-color="#20ffdf"/><stop offset="1" stop-color="#20ffdf"/></linearGradient>
<linearGradient id="h59" x1="0" y1="1" x2="0" y2="0"><stop offset="0" stop-color="#8f0000"/><stop offset=".0292" stop-color="#fa0000"/><stop offset=".0333" stop-color="#ff0b00"/><stop offset=".0958" stop-color="#fff100"/><stop offset=".1" stop-color="#fffb00"/><stop offset=".1042" stop-color="#fcff03"/><stop offset=".205" stop-color="#63ff9c"/><stop offset=".205" stop-color="#60ff9f"/><stop offset=".2167" stop-color="#60ff9f"/><stop offset=".2208" stop-color="#53ffac"/><stop offset=".2375" stop-color="#53ffac"/><stop offset=".2417" stop-color="#46ffb9"/><stop offset=".2667" stop-color="#46ffb9"/><stop offset=".2708" stop-color="#39ffc6"/><stop offset=".3042" stop-color="#39ffc6"/><stop offset=".3083" stop-color="#2dffd2"/><stop offset=".3708" stop-color="#2dffd2"/><stop offset=".375" stop-color="#20ffdf"/><stop offset="1" stop-color="#20ffdf"/></linearGradient>
<linearGradient id="h60" x1="0" y1="1" x2="0" y2="0"><stop offset="0" stop-color="#8f0000"/><stop offset=".0292" stop-color="#fa0000"/><stop offset=".0333" stop-color="#ff0a00"/><stop offset=".0958" stop-color="#ffef00"/><stop offset=".1" stop-color="#fffa00"/><stop offset=".1042" stop-color="#feff01"/><stop offset=".205" stop-color="#6aff95"/><stop offset=".205" stop-color="#6cff93"/><stop offset=".2083" stop-color="#6cff93"/><stop offset=".2125" stop-color="#60ff9f"/><stop offset=".2292" stop-color="#60ff9f"/><stop offset=".2333" stop-color="#53ffac"/><stop offset=".2542" stop-color="#53ffac"/><stop offset=".2583" stop-color="#46ffb9"/><stop offset=".2875" stop-color="#46ffb9"/><stop offset=".2917" stop-color="#39ffc6"/><stop offset=".3375" stop-color="#39ffc6"/><stop offset=".3417" stop-color="#2dffd2"/><stop offset=".425" stop-color="#2dffd2"/><stop offset=".4292" stop-color="#20ffdf"/><stop offset=".6167" stop-color="#20ffdf"/><stop offset=".6167" stop-color="#2dffd2"/><stop offset=".8" stop-color="#2dffd2"/><stop offset=".8042" stop-color="#20ffdf"/><stop offset="1" stop-color="#20ffdf"/></linearGradient>
<linearGradient id="h61" x1="0" y1="1" x2="0" y2="0"><stop offset="0" stop-color="#8f0000"/><stop offset=".0292" stop-color="#f90000"/><stop offset=".0333" stop-color="#ff0a00"/><stop offset=".0958" stop-color="#ffee00"/><stop offset=".1" stop-color="#fff800"/><stop offset=".1042" stop-color="#fffe00"/><stop offset=".205" stop-color="#71ff8e"/><stop offset=".205" stop-color="#6cff93"/><stop offset=".2167" stop-color="#6cff93"/><stop offset=".2208" stop-color="#60ff9f"/><stop offset=".2417" stop-color="#60ff9f"/><stop offset=".2458" stop-color="#53ffac"/><stop offset=".2708" stop-color="#53ffac"/><stop offset=".275" stop-color="#46ffb9"/><stop offset=".3125" stop-color="#46ffb9"/><stop offset=".3167" stop-color="#39ffc6"/><stop offset=".375" stop-color="#39ffc6"/><stop offset=".3792" stop-color="#2dffd2"/><stop offset=".4958" stop-color="#2dffd2"/><stop offset=".5" stop-color="#20ffdf"/><stop offset=".6167" stop-color="#20ffdf"/><stop offset=".6167" stop-color="#2dffd2"/><stop offset=".8875" stop-color="#2dffd2"/><stop offset=".8917" stop-color="#20ffdf"/><stop offset="1" stop-color="#20ffdf"/></linearGradient>
<linearGradient id="h62" x1="0" y1="1" x2="0" y2="0"><stop offset="0" stop-color="#8f0000"/><stop offset=".0292" stop-color="#f90000"/><stop offset=".0333" stop-color="#ff0900"/><stop offset=".0958" stop-color="#ffec00"/><stop offset=".1" stop-color="#fff600"/><stop offset=".1083" stop-color="#fcff03"/><stop offset=".205" stop-color="#79ff86"/><stop offset=".2083" stop-color="#79ff86"/><stop offset=".2125" stop-color="#6cff93"/><stop offset=".2292" stop-color="#6cff93"/><stop offset=".2333" stop-color="#60ff9f"/><stop offset=".2583" stop-color="#60ff9f"/><stop offset=".2625" stop-color="#53ffac"/><stop offset=".2917" stop-color="#53ffac"/><stop offset=".2958" stop-color="#46ffb9"/><stop offset=".3417" stop-color="#46ffb9"/><stop offset=".3458" stop-color="#39ffc6"/><stop offset=".4167" stop-color="#39ffc6"/><stop offset=".4208" stop-color="#2dffd2"/><stop offset=".5875" stop-color="#2dffd2"/><stop offset=".5917" stop-color="#20ffdf"/><stop offset=".6167" stop-color="#20ffdf"/><stop offset=".6167" stop-color="#2dffd2"/><stop offset=".9583" stop-color="#2dffd2"/><stop offset=".9625" stop-color="#20ffdf"/><stop offset="1" stop-color="#20ffdf"/></linearGradient>
<linearGradient id="h63" x1="0" y1="1" x2="0" y2="0"><stop offset="0" stop-color="#8f0000"/><stop offset=".0292" stop-color="#f80000"/><stop offset=".0333" stop-color="#ff0900"/><stop offset=".0958" stop-color="#ffeb00"/><stop offset=".1" stop-color="#fff500"/><stop offset=".1083" stop-color="#feff01"/><stop offset=".205" stop-color="#7fff80"/><stop offset=".205" stop-color="#79ff86"/><stop offset=".2208" stop-color="#79ff86"/><stop offset=".225" stop-color="#6cff93"/><stop offset=".2458" stop-color="#6cff93"/><stop offset=".25" stop-color="#60ff9f"/><stop offset=".275" stop-color="#60ff9f"/><stop offset=".2792" stop-color="#53ffac"/><stop offset=".3167" stop-color="#53ffac"/><stop offset=".3208" stop-color="#46ffb9"/><stop offset=".375" stop-color="#46ffb9"/><stop offset=".3792" stop-color="#39ffc6"/><stop offset=".4708" stop-color="#39ffc6"/><stop offset=".475" stop-color="#2dffd2"/><stop offset=".6167" stop-color="#2dffd2"/><stop offset=".6167" stop-color="#39ffc6"/><stop offset=".6208" stop-color="#2dffd2"/><stop offset="1" stop-color="#2dffd2"/></linearGradient>
<linearGradient id="h64" x1="0" y1="1" x2="0" y2="0"><stop offset="0" stop-color="#8f0000"/><stop offset=".0292" stop-color="#f80000"/><stop offset=".0333" stop-color="#ff0800"/><stop offset=".0958" stop-color="#ffe900"/><stop offset=".1" stop-color="#fff300"/><stop offset=".1083" stop-color="#fffe00"/><stop offset=".205" stop-color="#86ff79"/><stop offset=".2125" stop-color="#86ff79"/><stop offset=".2167" stop-color="#79ff86"/><stop offset=".2333" stop-color="#79ff86"/><stop offset=".2375" stop-color="#6cff93"/><stop offset=".2625" stop-color="#6cff93"/><stop offset=".2667" stop-color="#60ff9f"/><stop offset=".2958" stop-color="#60ff9f"/><stop offset=".3" stop-color="#53ffac"/><stop offset=".3458" stop-color="#53ffac"/><stop offset=".35" stop-color="#46ffb9"/><stop offset=".4125" stop-color="#46ffb9"/><stop offset=".4167" stop-color="#39ffc6"/><stop offset=".5292" stop-color="#39ffc6"/><stop offset=".5333" stop-color="#2dffd2"/><stop offset=".6167" stop-color="#2dffd2"/><stop offset=".6167" stop-color="#39ffc6"/><stop offset=".6875" stop-color="#39ffc6"/><stop offset=".6917" stop-color="#2dffd2"/><stop offset="1" stop-color="#2dffd2"/></linearGradient>
<linearGradient id="h65" x1="0" y1="1" x2="0" y2="0"><stop offset="0" stop-color="#8f0000"/><stop offset=".0292" stop-color="#f80000"/><stop offset=".0333" stop-color="#ff0800"/><stop offset=".0958" stop-color="#ffe800"/><stop offset=".1" stop-color="#fff100"/><stop offset=".1125" stop-color="#fdff02"/><stop offset=".205" stop-color="#8cff73"/><stop offset=".205" stop-color="#93ff6c"/><stop offset=".2083" stop-color="#86ff79"/><stop offset=".225" stop-color="#86ff79"/><stop offset=".2292" stop-color="#79ff86"/><stop offset=".25" stop-color="#79ff86"/><stop offset=".2542" stop-color="#6cff93"/><stop offset=".2792" stop-color="#6cff93"/><stop offset=".2833" stop-color="#60ff9f"/><stop offset=".3208" stop-color="#60ff9f"/><stop offset=".325" stop-color="#53ffac"/><stop offset=".375" stop-color="#53ffac"/><stop offset=".3792" stop-color="#46ffb9"/><stop offset=".4542" stop-color="#46ffb9"/><stop offset=".4583" stop-color="#39ffc6"/><stop offset=".5792" stop-color="#39ffc6"/><stop offset=".5833" stop-color="#2dffd2"/><stop offset=".6167" stop-color="#2dffd2"/><stop offset=".6167" stop-color="#39ffc6"/><stop offset=".7417" stop-color="#39ffc6"/><stop offset=".7458" stop-color="#2dffd2"/><stop offset="1" stop-color="#2dffd2"/></linearGradient>
<linearGradient id="h66" x1="0" y1="1" x2="0" y2="0"><stop offset="0" stop-color="#a40000"/><stop offset=".025" stop-color="#f90000"/><stop offset=".0292" stop-color="#ff0800"/><stop offset=".0958" stop-color="#ffeb00"/><stop offset=".1" stop-color="#fff400"/><stop offset=".1083" stop-color="#fffe00"/><stop offset=".205" stop-color="#90ff6f"/><stop offset=".205" stop-color="#93ff6c"/><stop offset=".2083" stop-color="#93ff6c"/><stop offset=".2125" stop-color="#86ff79"/><stop offset=".2292" stop-color="#86ff79"/><stop offset=".2333" stop-color="#79ff86"/><stop offset=".2583" stop-color="#79ff86"/><stop offset=".2625" stop-color="#6cff93"/><stop offset=".2917" stop-color="#6cff93"/><stop offset=".2958" stop-color="#60ff9f"/><stop offset=".3375" stop-color="#60ff9f"/><stop offset=".3417" stop-color="#53ffac"/><stop offset=".4" stop-color="#53ffac"/><stop offset=".4042" stop-color="#46ffb9"/><stop offset=".4875" stop-color="#46ffb9"/><stop offset=".4917" stop-color="#39ffc6"/><stop offset=".7708" stop-color="#39ffc6"/><stop offset=".775" stop-color="#2dffd2"/><stop offset="1" stop-color="#2dffd2"/></linearGradient>
<linearGradient id="h67" x1="0" y1="1" x2="0" y2="0"><stop offset="0" stop-color="#d40000"/><stop offset=".0125" stop-color="#fb0000"/><stop offset=".0167" stop-color="#ff0900"/><stop offset=".0958" stop-color="#fffe00"/><stop offset=".1" stop-color="#f7ff08"/><stop offset=".205" stop-color="#88ff77"/><stop offset=".205" stop-color="#86ff79"/><stop offset=".2167" stop-color="#86ff79"/><stop offset=".2208" stop-color="#79ff86"/><stop offset=".2417" stop-color="#79ff86"/><stop offset=".2458" stop-color="#6cff93"/><stop offset=".275" stop-color="#6cff93"/><stop offset=".2792" stop-color="#60ff9f"/><stop offset=".3208" stop-color="#60ff9f"/><stop offset=".325" stop-color="#53ffac"/><stop offset=".3792" stop-color="#53ffac"/><stop offset=".3833" stop-color="#46ffb9"/><stop offset=".4625" stop-color="#46ffb9"/><stop offset=".4667" stop-color="#39ffc6"/><stop offset=".5917" stop-color="#39ffc6"/><stop offset=".5958" stop-color="#2dffd2"/><stop offset=".6167" stop-color="#2dffd2"/><stop offset=".6167" stop-color="#39ffc6"/><stop offset=".7458" stop-color="#39ffc6"/><stop offset=".75" stop-color="#2dffd2"/><stop offset="1" stop-color="#2dffd2"/></linearGradient>
<linearGradient id="h68" x1="0" y1="1" x2="0" y2="0"><stop offset="0" stop-color="#ff0500"/><stop offset=".0875" stop-color="#fffb00"/><stop offset=".0917" stop-color="#f8ff07"/><stop offset=".0958" stop-color="#ecff13"/><stop offset=".1" stop-color="#e5ff1a"/><stop offset=".205" stop-color="#7fff80"/><stop offset=".205" stop-color="#79ff86"/><stop offset=".2292" stop-color="#79ff86"/><stop offset=".2333" stop-color="#6cff93"/><stop offset=".2583" stop-color="#6cff93"/><stop offset=".2625" stop-color="#60ff9f"/><stop offset=".3" stop-color="#60ff9f"/><stop offset=".3042" stop-color="#53ffac"/><stop offset=".3583" stop-color="#53ffac"/><stop offset=".3625" stop-color="#46ffb9"/><stop offset=".4417" stop-color="#46ffb9"/><stop offset=".4458" stop-color="#39ffc6"/><stop offset=".5667" stop-color="#39ffc6"/><stop offset=".5708" stop-color="#2dffd2"/><stop offset=".6167" stop-color="#2dffd2"/><stop offset=".6167" stop-color="#39ffc6"/><stop offset=".7208" stop-color="#39ffc6"/><stop offset=".725" stop-color="#2dffd2"/><stop offset="1" stop-color="#2dffd2"/></linearGradient>
<linearGradient id="h69" x1="0" y1="1" x2="0" y2="0"><stop offset="0" stop-color="#ff3500"/><stop offset=".0792" stop-color="#fffc00"/><stop offset=".0833" stop-color="#f8ff07"/><stop offset=".0958" stop-color="#d8ff27"/><stop offset=".1042" stop-color="#ceff31"/><stop offset=".205" stop-color="#76ff89"/><stop offset=".205" stop-color="#79ff86"/><stop offset=".2083" stop-color="#79ff86"/><stop offset=".2125" stop-color="#6cff93"/><stop offset=".2417" stop-color="#6cff93"/><stop offset=".2458" stop-color="#60ff9f"/><stop offset=".2792" stop-color="#60ff9f"/><stop offset=".2833" stop-color="#53ffac"/><stop offset=".3333" stop-color="#53ffac"/><stop offset=".3375" stop-color="#46ffb9"/><stop offset=".4167" stop-color="#46ffb9"/><stop offset=".4208" stop-color="#39ffc6"/><stop offset=".5375" stop-color="#39ffc6"/><stop offset=".5417" stop-color="#2dffd2"/><stop offset=".6167" stop-color="#2dffd2"/><stop offset=".6167" stop-color="#39ffc6"/><stop offset=".6917" stop-color="#39ffc6"/><stop offset=".6958" stop-color="#2dffd2"/><stop offset="1" stop-color="#2dffd2"/></linearGradient>
<linearGradient id="h70" x1="0" y1="1" x2="0" y2="0"><stop offset="0" stop-color="#ff6400"/><stop offset=".0667" stop-color="#fff800"/><stop offset=".0708" stop-color="#fcff03"/><stop offset=".0958" stop-color="#c5ff3a"/><stop offset=".1042" stop-color="#bcff43"/><stop offset=".205" stop-color="#6cff93"/><stop offset=".2208" stop-color="#6cff93"/><stop offset=".225" stop-color="#60ff9f"/><stop offset=".2583" stop-color="#60ff9f"/><stop offset=".2625" stop-color="#53ffac"/><stop offset=".3125" stop-color="#53ffac"/><stop offset=".3167" stop-color="#46ffb9"/><stop offset=".3875" stop-color="#46ffb9"/><stop offset=".3917" stop-color="#39ffc6"/><stop offset=".5083" stop-color="#39ffc6"/><stop offset=".5125" stop-color="#2dffd2"/><stop offset=".6167" stop-color="#2dffd2"/><stop offset=".6167" stop-color="#39ffc6"/><stop offset=".6625" stop-color="#39ffc6"/><stop offset=".6667" stop-color="#2dffd2"/><stop offset="1" stop-color="#2dffd2"/></linearGradient>
<linearGradient id="h71" x1="0" y1="1" x2="0" y2="0"><stop offset="0" stop-color="#ff9400"/><stop offset=".0542" stop-color="#fffd00"/><stop offset=".0625" stop-color="#f1ff0e"/><stop offset=".0958" stop-color="#b1ff4e"/><stop offset=".1083" stop-color="#a7ff58"/><stop offset=".205" stop-color="#65ff9a"/><stop offset=".205" stop-color="#60ff9f"/><stop offset=".2375" stop-color="#60ff9f"/><stop offset=".2417" stop-color="#53ffac"/><stop offset=".2875" stop-color="#53ffac"/><stop offset=".2917" stop-color="#46ffb9"/><stop offset=".3625" stop-color="#46ffb9"/><stop offset=".3667" stop-color="#39ffc6"/><stop offset=".4792" stop-color="#39ffc6"/><stop offset=".4833" stop-color="#2dffd2"/><stop offset=".6167" stop-color="#2dffd2"/><stop offset=".6167" stop-color="#39ffc6"/><stop offset=".6292" stop-color="#39ffc6"/><stop offset=".6333" stop-color="#2dffd2"/><stop offset="1" stop-color="#2dffd2"/></linearGradient>
<linearGradient id="h72" x1="0" y1="1" x2="0" y2="0"><stop offset="0" stop-color="#ffc400"/><stop offset=".0333" stop-color="#fffa00"/><stop offset=".0375" stop-color="#fdff02"/><stop offset=".0958" stop-color="#9eff61"/><stop offset=".1167" stop-color="#90ff6f"/><stop offset=".205" stop-color="#5dffa2"/><stop offset=".205" stop-color="#60ff9f"/><stop offset=".2125" stop-color="#60ff9f"/><stop offset=".2167" stop-color="#53ffac"/><stop offset=".2583" stop-color="#53ffac"/><stop offset=".2625" stop-color="#46ffb9"/><stop offset=".3292" stop-color="#46ffb9"/><stop offset=".3333" stop-color="#39ffc6"/><stop offset=".4458" stop-color="#39ffc6"/><stop offset=".45" stop-color="#2dffd2"/><stop offset=".9625" stop-color="#2dffd2"/><stop offset=".9667" stop-color="#20ffdf"/><stop offset="1" stop-color="#20ffdf"/></linearGradient>
<linearGradient id="h73" x1="0" y1="1" x2="0" y2="0"><stop offset="0" stop-color="#fff400"/><stop offset=".0083" stop-color="#ffff00"/><stop offset=".0958" stop-color="#8aff75"/><stop offset=".205" stop-color="#53ffac"/><stop offset=".2292" stop-color="#53ffac"/><stop offset=".2333" stop-color="#46ffb9"/><stop offset=".3" stop-color="#46ffb9"/><stop offset=".3042" stop-color="#39ffc6"/><stop offset=".4083" stop-color="#39ffc6"/><stop offset=".4125" stop-color="#2dffd2"/><stop offset=".6042" stop-color="#2dffd2"/><stop offset=".6083" stop-color="#20ffdf"/><stop offset=".6167" stop-color="#20ffdf"/><stop offset=".6167" stop-color="#2dffd2"/><stop offset=".925" stop-color="#2dffd2"/><stop offset=".9292" stop-color="#20ffdf"/><stop offset="1" stop-color="#20ffdf"/></linearGradient>
<linearGradient id="h74" x1="0" y1="1" x2="0" y2="0"><stop offset="0" stop-color="#daff25"/><stop offset=".1" stop-color="#74ff8b"/><stop offset=".205" stop-color="#4bffb4"/><stop offset=".205" stop-color="#46ffb9"/><stop offset=".2625" stop-color="#46ffb9"/><stop offset=".2667" stop-color="#39ffc6"/><stop offset=".3667" stop-color="#39ffc6"/><stop offset=".3708" stop-color="#2dffd2"/><stop offset=".5583" stop-color="#2dffd2"/><stop offset=".5625" stop-color="#20ffdf"/><stop offset=".6167" stop-color="#20ffdf"/><stop offset=".6167" stop-color="#2dffd2"/><stop offset=".8792" stop-color="#2dffd2"/><stop offset=".8833" stop-color="#20ffdf"/><stop offset="1" stop-color="#20ffdf"/></linearGradient>
<linearGradient id="h75" x1="0" y1="1" x2="0" y2="0"><stop offset="0" stop-color="#c3ff3c"/><stop offset=".1" stop-color="#6bff94"/><stop offset=".2083" stop-color="#46ffb9"/><stop offset=".2417" stop-color="#46ffb9"/><stop offset=".2458" stop-color="#39ffc6"/><stop offset=".3417" stop-color="#39ffc6"/><stop offset=".3458" stop-color="#2dffd2"/><stop offset=".5333" stop-color="#2dffd2"/><stop offset=".5375" stop-color="#20ffdf"/><stop offset=".6167" stop-color="#20ffdf"/><stop offset=".6167" stop-color="#2dffd2"/><stop offset=".85" stop-color="#2dffd2"/><stop offset=".8542" stop-color="#20ffdf"/><stop offset="1" stop-color="#20ffdf"/></linearGradient>
<linearGradient id="h76" x1="0" y1="1" x2="0" y2="0"><stop offset="0" stop-color="#b3ff4c"/><stop offset=".1" stop-color="#64ff9b"/><stop offset=".205" stop-color="#43ffbc"/><stop offset=".205" stop-color="#46ffb9"/><stop offset=".2208" stop-color="#46ffb9"/><stop offset=".225" stop-color="#39ffc6"/><stop offset=".3208" stop-color="#39ffc6"/><stop offset=".325" stop-color="#2dffd2"/><stop offset=".5125" stop-color="#2dffd2"/><stop offset=".5167" stop-color="#20ffdf"/><stop offset=".6167" stop-color="#20ffdf"/><stop offset=".6167" stop-color="#2dffd2"/><stop offset=".8292" stop-color="#2dffd2"/><stop offset=".8333" stop-color="#20ffdf"/><stop offset="1" stop-color="#20ffdf"/></linearGradient>
<linearGradient id="h77" x1="0" y1="1" x2="0" y2="0"><stop offset="0" stop-color="#a2ff5d"/><stop offset=".1" stop-color="#5dffa2"/><stop offset=".205" stop-color="#40ffbf"/><stop offset=".205" stop-color="#46ffb9"/><stop offset=".2083" stop-color="#39ffc6"/><stop offset=".3" stop-color="#39ffc6"/><stop offset=".3042" stop-color="#2dffd2"/><stop offset=".4875" stop-color="#2dffd2"/><stop offset=".4917" stop-color="#20ffdf"/><stop offset=".6167" stop-color="#20ffdf"/><stop offset=".6167" stop-color="#2dffd2"/><stop offset=".8042" stop-color="#2dffd2"/><stop offset=".8083" stop-color="#20ffdf"/><stop offset="1" stop-color="#20ffdf"/></linearGradient>
<linearGradient id="h78" x1="0" y1="1" x2="0" y2="0"><stop offset="0" stop-color="#91ff6e"/><stop offset=".1" stop-color="#56ffa9"/><stop offset=".205" stop-color="#3cffc3"/><stop offset=".205" stop-color="#39ffc6"/><stop offset=".2792" stop-color="#39ffc6"/><stop offset=".2833" stop-color="#2dffd2"/><stop offset=".4625" stop-color="#2dffd2"/><stop offset=".4667" stop-color="#20ffdf"/><stop offset=".6167" stop-color="#20ffdf"/><stop offset=".6167" stop-color="#2dffd2"/><stop offset=".775" stop-color="#2dffd2"/><stop offset=".7792" stop-color="#20ffdf"/><stop offset="1" stop-color="#20ffdf"/></linearGradient>
<linearGradient id="h79" x1="0" y1="1" x2="0" y2="0"><stop offset="0" stop-color="#81ff7e"/><stop offset=".1" stop-color="#4fffb0"/><stop offset=".2083" stop-color="#39ffc6"/><stop offset=".25" stop-color="#39ffc6"/><stop offset=".2542" stop-color="#2dffd2"/><stop offset=".4333" stop-color="#2dffd2"/><stop offset=".4375" stop-color="#20ffdf"/><stop offset=".6167" stop-color="#20ffdf"/><stop offset=".6167" stop-color="#2dffd2"/><stop offset=".75" stop-color="#2dffd2"/><stop offset=".7542" stop-color="#20ffdf"/><stop offset="1" stop-color="#20ffdf"/></linearGradient>
<linearGradient id="h80" x1="0" y1="1" x2="0" y2="0"><stop offset="0" stop-color="#70ff8f"/><stop offset=".1042" stop-color="#47ffb8"/><stop offset=".205" stop-color="#35ffca"/><stop offset=".205" stop-color="#39ffc6"/><stop offset=".225" stop-color="#39ffc6"/><stop offset=".2292" stop-color="#2dffd2"/><stop offset=".4042" stop-color="#2dffd2"/><stop offset=".4083" stop-color="#20ffdf"/><stop offset=".6167" stop-color="#20ffdf"/><stop offset=".6167" stop-color="#2dffd2"/><stop offset=".7167" stop-color="#2dffd2"/><stop offset=".7208" stop-color="#20ffdf"/><stop offset="1" stop-color="#20ffdf"/></linearGradient>
<linearGradient id="h81" x1="0" y1="1" x2="0" y2="0"><stop offset="0" stop-color="#60ff9f"/><stop offset=".1042" stop-color="#40ffbf"/><stop offset=".205" stop-color="#32ffcd"/><stop offset=".205" stop-color="#2dffd2"/><stop offset=".3708" stop-color="#2dffd2"/><stop offset=".375" stop-color="#20ffdf"/><stop offset=".6167" stop-color="#20ffdf"/><stop offset=".6167" stop-color="#2dffd2"/><stop offset=".6833" stop-color="#2dffd2"/><stop offset=".6875" stop-color="#20ffdf"/><stop offset="1" stop-color="#20ffdf"/></linearGradient>
<linearGradient id="h82" x1="0" y1="1" x2="0" y2="0"><stop offset="0" stop-color="#4fffb0"/><stop offset=".1125" stop-color="#38ffc7"/><stop offset=".205" stop-color="#2effd1"/><stop offset=".205" stop-color="#2dffd2"/><stop offset=".3333" stop-color="#2dffd2"/><stop offset=".3375" stop-color="#20ffdf"/><stop offset=".6167" stop-color="#20ffdf"/><stop offset=".6167" stop-color="#2dffd2"/><stop offset=".65" stop-color="#2dffd2"/><stop offset=".6542" stop-color="#20ffdf"/><stop offset="1" stop-color="#20ffdf"/></linearGradient>
<linearGradient id="h83" x1="0" y1="1" x2="0" y2="0"><stop offset="0" stop-color="#41ffbe"/><stop offset=".1375" stop-color="#31ffce"/><stop offset=".205" stop-color="#2dffd2"/><stop offset=".2917" stop-color="#2dffd2"/><stop offset=".2958" stop-color="#20ffdf"/><stop offset="1" stop-color="#20ffdf"/></linearGradient>
<linearGradient id="h84" x1="0" y1="1" x2="0" y2="0"><stop offset="0" stop-color="#3dffc2"/><stop offset=".1458" stop-color="#2dffd2"/><stop offset=".205" stop-color="#29ffd6"/><stop offset=".205" stop-color="#2dffd2"/><stop offset=".2542" stop-color="#2dffd2"/><stop offset=".2583" stop-color="#20ffdf"/><stop offset="1" stop-color="#20ffdf"/></linearGradient>
<linearGradient id="h85" x1="0" y1="1" x2="0" y2="0"><stop offset="0" stop-color="#38ffc7"/><stop offset=".1583" stop-color="#2affd5"/><stop offset=".205" stop-color="#27ffd8"/><stop offset=".205" stop-color="#2dffd2"/><stop offset=".2167" stop-color="#2dffd2"/><stop offset=".2208" stop-color="#20ffdf"/><stop offset="1" stop-color="#20ffdf"/></linearGradient>
<linearGradient id="h86" x1="0" y1="1" x2="0" y2="0"><stop offset="0" stop-color="#34ffcb"/><stop offset=".1792" stop-color="#26ffd9"/><stop offset=".205" stop-color="#25ffda"/><stop offset=".205" stop-color="#20ffdf"/><stop offset="1" stop-color="#20ffdf"/></linearGradient>
<linearGradient id="h87" x1="0" y1="1" x2="0" y2="0"><stop offset="0" stop-color="#2cffd3"/><stop offset=".2333" stop-color="#20ffdf"/><stop offset=".525" stop-color="#20ffdf"/><stop offset=".5292" stop-color="#13ffec"/><stop offset=".6167" stop-color="#13ffec"/><stop offset=".6167" stop-color="#20ffdf"/><stop offset="1" stop-color="#20ffdf"/></linearGradient>
<linearGradient id="h88" x1="0" y1="1" x2="0" y2="0"><stop offset="0" stop-color="#23ffdc"/><stop offset=".205" stop-color="#1cffe3"/><stop offset=".205" stop-color="#20ffdf"/><stop offset=".3708" stop-color="#20ffdf"/><stop offset=".375" stop-color="#13ffec"/><stop offset=".6167" stop-color="#13ffec"/><stop offset=".6167" stop-color="#20ffdf"/><stop offset="1" stop-color="#20ffdf"/></linearGradient>
<linearGradient id="h89" x1="0" y1="1" x2="0" y2="0"><stop offset="0" stop-color="#1dffe2"/><stop offset=".205" stop-color="#19ffe6"/><stop offset=".205" stop-color="#13ffec"/><stop offset=".6167" stop-color="#13ffec"/><stop offset=".6167" stop-color="#20ffdf"/><stop offset="1" stop-color="#20ffdf"/></linearGradient>
<linearGradient id="h90" x1="0" y1="1" x2="0" y2="0"><stop offset="0" stop-color="#1bffe4"/><stop offset=".205" stop-color="#18ffe7"/><stop offset=".205" stop-color="#13ffec"/><stop offset=".6167" stop-color="#13ffec"/><stop offset=".6167" stop-color="#20ffdf"/><stop offset="1" stop-color="#20ffdf"/></linearGradient>
<linearGradient id="h91" x1="0" y1="1" x2="0" y2="0"><stop offset="0" stop-color="#14ffeb"/><stop offset=".6167" stop-color="#13ffec"/><stop offset=".6167" stop-color="#20ffdf"/><stop offset="1" stop-color="#20ffdf"/></linearGradient>
<linearGradient id="h92" x1="0" y1="1" x2="0" y2="0"><stop offset="0" stop-color="#14ffeb"/><stop offset=".6167" stop-color="#13ffec"/><stop offset=".6167" stop-color="#20ffdf"/><stop offset="1" stop-color="#20ffdf"/></linearGradient>
<linearGradient id="h93" x1="0" y1="1" x2="0" y2="0"><stop offset="0" stop-color="#14ffeb"/><stop offset=".6167" stop-color="#13ffec"/><stop offset=".6167" stop-color="#20ffdf"/><stop offset="1" stop-color="#20ffdf"/></linearGradient>
<linearGradient id="h94" x1="0" y1="1" x2="0" y2="0"><stop offset="0" stop-color="#14ffeb"/><stop offset=".6167" stop-color="#13ffec"/><stop offset=".6167" stop-color="#20ffdf"/><stop offset="1" stop-color="#20ffdf"/></linearGradient>
<linearGradient id="h95" x1="0" y1="1" x2="0" y2="0"><stop offset="0" stop-color="#14ffeb"/><stop offset=".6167" stop-color="#13ffec"/><stop offset=".6167" stop-color="#20ffdf"/><stop offset="1" stop-color="#20ffdf"/></linearGradient>
<linearGradient id="hm" x1="0" y1="0" x2="1" y2="0"><stop offset="0" stop-color="#000"/><stop offset="1" stop-color="#fff"/></linearGradient>
<mask id="m" maskContentUnits="objectBoundingBox"><rect width="1" height="1" fill="url(#hm)"/></mask>
<clipPath id="ca"><rect x="168" y="48" width="935.5" height="664"/></clipPath>
</defs>
<g clip-path="url(#ca)" shape-rendering="crispEdges">
<rect x="167" y="48" width="39" height="664" fill="url(#h0)"/>
<rect x="205" y="48" width="39" height="664" fill="url(#h1)"/>
<rect x="243" y="48" width="38" height="664" fill="url(#h2)"/>
<rect x="280" y="48" width="39" height="664" fill="url(#h3)"/>
<rect x="318" y="48" width="38" height="664" fill="url(#h4)"/>
<rect x="355" y="48" width="39" height="664" fill="url(#h5)"/>
<rect x="393" y="48" width="10" height="664" fill="url(#h6)"/>
<rect x="402" y="48" width="10" height="664" fill="url(#h7)"/>
<rect x="411" y="48" width="11" height="664" fill="url(#h8)"/>
<rect x="421" y="48" width="10" height="664" fill="url(#h9)"/>
<rect x="430" y="48" width="10" height="664" fill="url(#h10)"/>
<rect x="439" y="48" width="11" height="664" fill="url(#h11)"/>
<rect x="449" y="48" width="10" height="664" fill="url(#h12)"/>
<rect x="458" y="48" width="10" height="664" fill="url(#h13)"/>
<rect x="467" y="48" width="11" height="664" fill="url(#h14)"/>
<rect x="477" y="48" width="10" height="664" fill="url(#h15)"/>
<rect x="486" y="48" width="10" height="664" fill="url(#h16)"/>
<rect x="495" y="48" width="11" height="664" fill="url(#h17)"/>
<rect x="505" y="48" width="10" height="664" fill="url(#h18)"/>
<rect x="514" y="48" width="10" height="664" fill="url(#h19)"/>
<rect x="523" y="48" width="11" height="664" fill="url(#h20)"/>
<rect x="533" y="48" width="10" height="664" fill="url(#h21)"/>
<rect x="542" y="48" width="11" height="664" fill="url(#h22)"/>
<rect x="552" y="48" width="10" height="664" fill="url(#h23)"/>
<rect x="561" y="48" width="10" height="664" fill="url(#h24)"/>
<rect x="570" y="48" width="11" height="664" fill="url(#h25)"/>
<rect x="580" y="48" width="10" height="664" fill="url(#h26)"/>
<rect x="589" y="48" width="10" height="664" fill="url(#h27)"/>
<rect x="598" y="48" width="11" height="664" fill="url(#h28)"/>
<rect x="608" y="48" width="10" height="664" fill="url(#h29)"/>
<rect x="617" y="48" width="6" height="664" fill="url(#h30)"/>
<rect x="622" y="48" width="5" height="664" fill="url(#h31)"/>
<rect x="626" y="48" width="6" height="664" fill="url(#h32)"/>
<rect x="631" y="48" width="6" height="664" fill="url(#h33)"/>
<rect x="636" y="48" width="5" height="664" fill="url(#h34)"/>
<rect x="640" y="48" width="6" height="664" fill="url(#h35)"/>
<rect x="645" y="48" width="6" height="664" fill="url(#h36)"/>
<rect x="650" y="48" width="5" height="664" fill="url(#h37)"/>
<rect x="654" y="48" width="6" height="664" fill="url(#h38)"/>
<rect x="659" y="48" width="6" height="664" fill="url(#h39)"/>
<rect x="664" y="48" width="5" height="664" fill="url(#h40)"/>
<rect x="668" y="48" width="6" height="664" fill="url(#h41)"/>
<rect x="673" y="48" width="6" height="664" fill="url(#h42)"/>
<rect x="678" y="48" width="6" height="664" fill="url(#h43)"/>
<rect x="683" y="48" width="5" height="664" fill="url(#h44)"/>
<rect x="687" y="48" width="6" height="664" fill="url(#h45)"/>
<rect x="692" y="48" width="6" height="664" fill="url(#h46)"/>
<rect x="697" y="48" width="5" height="664" fill="url(#h47)"/>
<rect x="701" y="48" width="6" height="664" fill="url(#h48)"/>
<rect x="706" y="48" width="6" height="664" fill="url(#h49)"/>
<rect x="711" y="48" width="5" height="664" fill="url(#h50)"/>
<rect x="715" y="48" width="6" height="664" fill="url(#h51)"/>
<rect x="720" y="48" width="6" height="664" fill="url(#h52)"/>
<rect x="725" y="48" width="5" height="664" fill="url(#h53)"/>
<rect x="729" y="48" width="6" height="664" fill="url(#h54)"/>
<rect x="734" y="48" width="6" height="664" fill="url(#h55)"/>
<rect x="739" y="48" width="5" height="664" fill="url(#h56)"/>
<rect x="743" y="48" width="6" height="664" fill="url(#h57)"/>
<rect x="748" y="48" width="6" height="664" fill="url(#h58)"/>
<rect x="753" y="48" width="5" height="664" fill="url(#h59)"/>
<rect x="757" y="48" width="6" height="664" fill="url(#h60)"/>
<rect x="762" y="48" width="6" height="664" fill="url(#h61)"/>
<rect x="767" y="48" width="5" height="664" fill="url(#h62)"/>
<rect x="771" y="48" width="6" height="664" fill="url(#h63)"/>
<rect x="776" y="48" width="6" height="664" fill="url(#h64)"/>
<rect x="781" y="48" width="5" height="664" fill="url(#h65)"/>
<rect x="785" y="48" width="6" height="664" fill="url(#h66)"/>
<rect x="790" y="48" width="6" height="664" fill="url(#h67)"/>
<rect x="795" y="48" width="5" height="664" fill="url(#h68)"/>
<rect x="799" y="48" width="6" height="664" fill="url(#h69)"/>
<rect x="804" y="48" width="6" height="664" fill="url(#h70)"/>
<rect x="809" y="48" width="5" height="664" fill="url(#h71)"/>
<rect x="813" y="48" width="6" height="664" fill="url(#h72)"/>
<rect x="818" y="48" width="6" height="664" fill="url(#h73)"/>
<rect x="823" y="48" width="6" height="664" fill="url(#h74)"/>
<rect x="828" y="48" width="5" height="664" fill="url(#h75)"/>
<rect x="832" y="48" width="6" height="664" fill="url(#h76)"/>
<rect x="837" y="48" width="6" height="664" fill="url(#h77)"/>
<rect x="842" y="48" width="5" height="664" fill="url(#h78)"/>
<rect x="846" y="48" width="6" height="664" fill="url(#h79)"/>
<rect x="851" y="48" width="6" height="664" fill="url(#h80)"/>
<rect x="856" y="48" width="5" height="664" fill="url(#h81)"/>
<rect x="860" y="48" width="6" height="664" fill="url(#h82)"/>
<rect x="865" y="48" width="6" height="664" fill="url(#h83)"/>
<rect x="870" y="48" width="5" height="664" fill="url(#h84)"/>
<rect x="874" y="48" width="6" height="664" fill="url(#h85)"/>
<rect x="879" y="48" width="10" height="664" fill="url(#h86)"/>
<rect x="888" y="48" width="11" height="664" fill="url(#h87)"/>
<rect x="898" y="48" width="10" height="664" fill="url(#h88)"/>
<rect x="907" y="48" width="10" height="664" fill="url(#h89)"/>
<rect x="916" y="48" width="39" height="664" fill="url(#h90)"/>
<rect x="954" y="48" width="38" height="664" fill="url(#h91)"/>
<rect x="991" y="48" width="39" height="664" fill="url(#h92)"/>
<rect x="1029" y="48" width="38" height="664" fill="url(#h93)"/>
<rect x="1066" y="48" width="40" height="664" fill="url(#h94)"/>
<rect x="167" y="48" width="38" height="664" fill="url(#h1)" mask="url(#m)"/>
<rect x="205" y="48" width="38" height="664" fill="url(#h2)" mask="url(#m)"/>
<rect x="243" y="48" width="37" height="664" fill="url(#h3)" mask="url(#m)"/>
<rect x="280" y="48" width="38" height="664" fill="url(#h4)" mask="url(#m)"/>
<rect x="318" y="48" width="37" height="664" fill="url(#h5)" mask="url(#m)"/>
<rect x="355" y="48" width="38" height="664" fill="url(#h6)" mask="url(#m)"/>
<rect x="393" y="48" width="9" height="664" fill="url(#h7)" mask="url(#m)"/>
<rect x="402" y="48" width="9" height="664" fill="url(#h8)" mask="url(#m)"/>
<rect x="411" y="48" width="10" height="664" fill="url(#h9)" mask="url(#m)"/>
<rect x="421" y="48" width="9" height="664" fill="url(#h10)" mask="url(#m)"/>
<rect x="430" y="48" width="9" height="664" fill="url(#h11)" mask="url(#m)"/>
<rect x="439" y="48" width="10" height="664" fill="url(#h12)" mask="url(#m)"/>
<rect x="449" y="48" width="9" height="664" fill="url(#h13)" mask="url(#m)"/>
<rect x="458" y="48" width="9" height="664" fill="url(#h14)" mask="url(#m)"/>
<rect x="467" y="48" width="10" height="664" fill="url(#h15)" mask="url(#m)"/>
<rect x="477" y="48" width="9" height="664" fill="url(#h16)" mask="url(#m)"/>
<rect x="486" y="48" width="9" height="664" fill="url(#h17)" mask="url(#m)"/>
<rect x="495" y="48" width="10" height="664" fill="url(#h18)" mask="url(#m)"/>
<rect x="505" y="48" width="9" height="664" fill="url(#h19)" mask="url(#m)"/>
<rect x="514" y="48" width="9" height="664" fill="url(#h20)" mask="url(#m)"/>
<rect x="523" y="48" width="10" height="664" fill="url(#h21)" mask="url(#m)"/>
<rect x="533" y="48" width="9" height="664" fill="url(#h22)" mask="url(#m)"/>
<rect x="542" y="48" width="10" height="664" fill="url(#h23)" mask="url(#m)"/>
<rect x="552" y="48" width="9" height="664" fill="url(#h24)" mask="url(#m)"/>
<rect x="561" y="48" width="9" height="664" fill="url(#h25)" mask="url(#m)"/>
<rect x="570" y="48" width="10" height="664" fill="url(#h26)" mask="url(#m)"/>
<rect x="580" y="48" width="9" height="664" fill="url(#h27)" mask="url(#m)"/>
<rect x="589" y="48" width="9" height="664" fill="url(#h28)" mask="url(#m)"/>
<rect x="598" y="48" width="10" height="664" fill="url(#h29)" mask="url(#m)"/>
<rect x="608" y="48" width="9" height="664" fill="url(#h30)" mask="url(#m)"/>
<rect x="617" y="48" width="5" height="664" fill="url(#h31)" mask="url(#m)"/>
<rect x="622" y="48" width="4" height="664" fill="url(#h32)" mask="url(#m)"/>
<rect x="626" y="48" width="5" height="664" fill="url(#h33)" mask="url(#m)"/>
<rect x="631" y="48" width="5" height="664" fill="url(#h34)" mask="url(#m)"/>
<rect x="636" y="48" width="4" height="664" fill="url(#h35)" mask="url(#m)"/>
<rect x="640" y="48" width="5" height="664" fill="url(#h36)" mask="url(#m)"/>
<rect x="645" y="48" width="5" height="664" fill="url(#h37)" mask="url(#m)"/>
<rect x="650" y="48" width="4" height="664" fill="url(#h38)" mask="url(#m)"/>
<rect x="654" y="48" width="5" height="664" fill="url(#h39)" mask="url(#m)"/>
<rect x="659" y="48" width="5" height="664" fill="url(#h40)" mask="url(#m)"/>
<rect x="664" y="48" width="4" height="664" fill="url(#h41)" mask="url(#m)"/>
<rect x="668" y="48" width="5" height="664" fill="url(#h42)" mask="url(#m)"/>
<rect x="673" y="48" width="5" height="664" fill="url(#h43)" mask="url(#m)"/>
<rect x="678" y="48" width="5" height="664" fill="url(#h44)" mask="url(#m)"/>
<rect x="683" y="48" width="4" height="664" fill="url(#h45)" mask="url(#m)"/>
<rect x="687" y="48" width="5" height="664" fill="url(#h46)" mask="url(#m)"/>
<rect x="692" y="48" width="5" height="664" fill="url(#h47)" mask="url(#m)"/>
<rect x="697" y="48" width="4" height="664" fill="url(#h48)" mask="url(#m)"/>
<rect x="701" y="48" width="5" height="664" fill="url(#h49)" mask="url(#m)"/>
<rect x="706" y="48" width="5" height="664" fill="url(#h50)" mask="url(#m)"/>
<rect x="711" y="48" width="4" height="664" fill="url(#h51)" mask="url(#m)"/>
<rect x="715" y="48" width="5" height="664" fill="url(#h52)" mask="url(#m)"/>
<rect x="720" y="48" width="5" height="664" fill="url(#h53)" mask="url(#m)"/>
<rect x="725" y="48" width="4" height="664" fill="url(#h54)" mask="url(#m)"/>
<rect x="729" y="48" width="5" height="664" fill="url(#h55)" mask="url(#m)"/>
<rect x="734" y="48" width="5" height="664" fill="url(#h56)" mask="url(#m)"/>
<rect x="739" y="48" width="4" height="664" fill="url(#h57)" mask="url(#m)"/>
<rect x="743" y="48" width="5" height="664" fill="url(#h58)" mask="url(#m)"/>
<rect x="748" y="48" width="5" height="664" fill="url(#h59)" mask="url(#m)"/>
<rect x="753" y="48" width="4" height="664" fill="url(#h60)" mask="url(#m)"/>
<rect x="757" y="48" width="5" height="664" fill="url(#h61)" mask="url(#m)"/>
<rect x="762" y="48" width="5" height="664" fill="url(#h62)" mask="url(#m)"/>
<rect x="767" y="48" width="4" height="664" fill="url(#h63)" mask="url(#m)"/>
<rect x="771" y="48" width="5" height="664" fill="url(#h64)" mask="url(#m)"/>
<rect x="776" y="48" width="5" height="664" fill="url(#h65)" mask="url(#m)"/>
<rect x="781" y="48" width="4" height="664" fill="url(#h66)" mask="url(#m)"/>
<rect x="785" y="48" width="5" height="664" fill="url(#h67)" mask="url(#m)"/>
<rect x="790" y="48" width="5" height="664" fill="url(#h68)" mask="url(#m)"/>
<rect x="795" y="48" width="4" height="664" fill="url(#h69)" mask="url(#m)"/>
<rect x="799" y="48" width="5" height="664" fill="url(#h70)" mask="url(#m)"/>
<rect x="804" y="48" width="5" height="664" fill="url(#h71)" mask="url(#m)"/>
<rect x="809" y="48" width="4" height="664" fill="url(#h72)" mask="url(#m)"/>
<rect x="813" y="48" width="5" height="664" fill="url(#h73)" mask="url(#m)"/>
<rect x="818" y="48" width="5" height="664" fill="url(#h74)" mask="url(#m)"/>
<rect x="823" y="48" width="5" height="664" fill="url(#h75)" mask="url(#m)"/>
<rect x="828" y="48" width="4" height="664" fill="url(#h76)" mask="url(#m)"/>
<rect x="832" y="48" width="5" height="664" fill="url(#h77)" mask="url(#m)"/>
<rect x="837" y="48" width="5" height="664" fill="url(#h78)" mask="url(#m)"/>
<rect x="842" y="48" width="4" height="664" fill="url(#h79)" mask="url(#m)"/>
<rect x="846" y="48" width="5" height="664" fill="url(#h80)" mask="url(#m)"/>
<rect x="851" y="48" width="5" height="664" fill="url(#h81)" mask="url(#m)"/>
<rect x="856" y="48" width="4" height="664" fill="url(#h82)" mask="url(#m)"/>
<rect x="860" y="48" width="5" height="664" fill="url(#h83)" mask="url(#m)"/>
<rect x="865" y="48" width="5" height="664" fill="url(#h84)" mask="url(#m)"/>
<rect x="870" y="48" width="4" height="664" fill="url(#h85)" mask="url(#m)"/>
<rect x="874" y="48" width="5" height="664" fill="url(#h86)" mask="url(#m)"/>
<rect x="879" y="48" width="9" height="664" fill="url(#h87)" mask="url(#m)"/>
<rect x="888" y="48" width="10" height="664" fill="url(#h88)" mask="url(#m)"/>
<rect x="898" y="48" width="9" height="664" fill="url(#h89)" mask="url(#m)"/>
<rect x="907" y="48" width="9" height="664" fill="url(#h90)" mask="url(#m)"/>
<rect x="916" y="48" width="38" height="664" fill="url(#h91)" mask="url(#m)"/>
<rect x="954" y="48" width="37" height="664" fill="url(#h92)" mask="url(#m)"/>
<rect x="991" y="48" width="38" height="664" fill="url(#h93)" mask="url(#m)"/>
<rect x="1029" y="48" width="37" height="664" fill="url(#h94)" mask="url(#m)"/>
<rect x="1066" y="48" width="39" height="664" fill="url(#h95)" mask="url(#m)"/>
</g>
<polygon points="170,302 557.5,302 545,322.5 505,330 462.5,360 475,380 426.25,432.5 426.25,455 385,457.5 345,466.25 202.5,460 197.5,447.5 212.5,436.25 185,405 170,410 170,367.5 182.5,370 206.25,357.5 185,333.75 170,337.5" fill="#13ffec"/>
<polygon points="212.5,490 242.5,477.5 290,475 345,477.5 355,486.25 345,495 300,496.25 265,502.5 230,497.5" fill="#13ffec"/>
<polygon points="1027.21,470.75 1035.21,467.25 1043.21,470.75 1035.21,474.25" fill="#0cf5f5"/>
<polygon points="1030.21,512.8 1035.21,509.8 1040.21,512.8 1035.21,515.8" fill="#0cf5f5"/>
<polygon points="1025.21,541.57 1035.21,536.57 1045.21,541.57 1035.21,546.57" fill="#0cf5f5"/>
<polygon points="1031.21,563.71 1035.21,561.21 1039.21,563.71 1035.21,566.21" fill="#0cf5f5"/>
<polygon points="1024.21,601.33 1035.21,598.33 1046.21,601.33 1035.21,604.33" fill="#0cf5f5"/>
<g stroke="#000" stroke-width="2.2" fill="none">
<rect x="168" y="48" width="935.5" height="664"/>
<path d="M355.1 712v-9 M355.1 48v9M542.2 712v-9 M542.2 48v9M729.3 712v-9 M729.3 48v9M916.4 712v-9 M916.4 48v9M168 601.33h9 M1103.5 601.33h-9M168 490.67h9 M1103.5 490.67h-9M168 380h9 M1103.5 380h-9M168 269.33h9 M1103.5 269.33h-9M168 158.67h9 M1103.5 158.67h-9" stroke-width="1.8"/>
</g>
<g font-size="35.5" fill="#000">
<text x="168" y="761" text-anchor="middle">2060</text>
<text x="355.1" y="761" text-anchor="middle">2080</text>
<text x="542.2" y="761" text-anchor="middle">2100</text>
<text x="729.3" y="761" text-anchor="middle">2120</text>
<text x="916.4" y="761" text-anchor="middle">2140</text>
<text x="1103.5" y="761" text-anchor="middle">2160</text>
<text x="152" y="724" text-anchor="end">0</text>
<text x="152" y="613.33" text-anchor="end">5</text>
<text x="152" y="502.67" text-anchor="end">10</text>
<text x="152" y="392" text-anchor="end">15</text>
<text x="152" y="281.33" text-anchor="end">20</text>
<text x="152" y="170.67" text-anchor="end">25</text>
<text x="152" y="60" text-anchor="end">30</text>
</g>
<text x="43" y="69" font-size="45.5" letter-spacing="-3.5">(A)</text>
<text transform="translate(85 381) rotate(-90)" text-anchor="middle" font-size="46" textLength="305" lengthAdjust="spacing">Time Delay (ps)</text>
<text x="560" y="818.5" font-size="45">ω<tspan font-size="32" dy="24">τ</tspan><tspan dy="-24"> (nm)</tspan></text>
<g stroke="#262626" stroke-width="5" fill="none">
<rect x="1288.7" y="55.4" width="888.6" height="675.6"/>
<path d="M1436.8 731v-9 M1436.8 55.4v9M1584.9 731v-9 M1584.9 55.4v9M1733 731v-9 M1733 55.4v9M1881.1 731v-9 M1881.1 55.4v9M2029.2 731v-9 M2029.2 55.4v9M1288.7 618.4h9 M2177.3 618.4h-9M1288.7 505.8h9 M2177.3 505.8h-9M1288.7 393.2h9 M2177.3 393.2h-9M1288.7 280.6h9 M2177.3 280.6h-9M1288.7 168h9 M2177.3 168h-9" stroke-width="3.4"/>
</g>
<g stroke="#ff0000" stroke-width="3.7" fill="none">
<circle cx="1291.66" cy="93.68" r="10.2"/>
<circle cx="1294.62" cy="111.7" r="10.2"/>
<circle cx="1297.59" cy="129.72" r="10.2"/>
<circle cx="1300.55" cy="148.86" r="10.2"/>
<circle cx="1303.51" cy="172.5" r="10.2"/>
<circle cx="1306.47" cy="192.77" r="10.2"/>
<circle cx="1309.43" cy="211.91" r="10.2"/>
<circle cx="1312.4" cy="230.88" r="10.2"/>
<circle cx="1315.36" cy="247.61" r="10.2"/>
<circle cx="1318.32" cy="263.71" r="10.2"/>
<circle cx="1321.28" cy="279.1" r="10.2"/>
<circle cx="1324.24" cy="293.71" r="10.2"/>
<circle cx="1327.21" cy="307.53" r="10.2"/>
<circle cx="1330.17" cy="320.6" r="10.2"/>
<circle cx="1333.13" cy="333.01" r="10.2"/>
<circle cx="1336.09" cy="344.88" r="10.2"/>
<circle cx="1339.05" cy="356.32" r="10.2"/>
<circle cx="1342.02" cy="367.44" r="10.2"/>
<circle cx="1344.98" cy="378.31" r="10.2"/>
<circle cx="1347.94" cy="388.96" r="10.2"/>
<circle cx="1350.9" cy="399" r="10.2"/>
<circle cx="1353.86" cy="408.85" r="10.2"/>
<circle cx="1356.83" cy="418.49" r="10.2"/>
<circle cx="1359.79" cy="427.9" r="10.2"/>
<circle cx="1362.75" cy="437.06" r="10.2"/>
<circle cx="1365.71" cy="445.97" r="10.2"/>
<circle cx="1368.67" cy="454.62" r="10.2"/>
<circle cx="1371.64" cy="463.02" r="10.2"/>
<circle cx="1374.6" cy="471.16" r="10.2"/>
<circle cx="1377.56" cy="479.04" r="10.2"/>
<circle cx="1380.52" cy="486.69" r="10.2"/>
<circle cx="1383.48" cy="494.1" r="10.2"/>
<circle cx="1386.45" cy="501.28" r="10.2"/>
<circle cx="1389.41" cy="508.23" r="10.2"/>
<circle cx="1392.37" cy="514.97" r="10.2"/>
<circle cx="1395.33" cy="521.5" r="10.2"/>
<circle cx="1398.29" cy="527.82" r="10.2"/>
<circle cx="1401.26" cy="533.94" r="10.2"/>
<circle cx="1404.22" cy="539.87" r="10.2"/>
<circle cx="1407.18" cy="545.61" r="10.2"/>
<circle cx="1410.14" cy="551.17" r="10.2"/>
<circle cx="1413.1" cy="556.55" r="10.2"/>
<circle cx="1416.07" cy="561.75" r="10.2"/>
<circle cx="1419.03" cy="566.79" r="10.2"/>
<circle cx="1421.99" cy="571.66" r="10.2"/>
<circle cx="1424.95" cy="576.38" r="10.2"/>
<circle cx="1427.91" cy="580.94" r="10.2"/>
<circle cx="1430.88" cy="585.35" r="10.2"/>
<circle cx="1433.84" cy="589.62" r="10.2"/>
<circle cx="1436.8" cy="593.74" r="10.2"/>
<circle cx="1442.72" cy="601.58" r="10.2"/>
<circle cx="1448.65" cy="608.9" r="10.2"/>
<circle cx="1454.57" cy="615.73" r="10.2"/>
<circle cx="1460.5" cy="622.09" r="10.2"/>
<circle cx="1466.42" cy="628.03" r="10.2"/>
<circle cx="1472.34" cy="633.55" r="10.2"/>
<circle cx="1478.27" cy="638.7" r="10.2"/>
<circle cx="1484.19" cy="643.48" r="10.2"/>
<circle cx="1490.12" cy="647.94" r="10.2"/>
<circle cx="1496.04" cy="652.09" r="10.2"/>
<circle cx="1503.45" cy="656.88" r="10.2"/>
<circle cx="1510.85" cy="661.26" r="10.2"/>
<circle cx="1518.26" cy="665.29" r="10.2"/>
<circle cx="1525.66" cy="669" r="10.2"/>
<circle cx="1533.07" cy="672.43" r="10.2"/>
<circle cx="1540.47" cy="675.61" r="10.2"/>
<circle cx="1547.88" cy="678.58" r="10.2"/>
<circle cx="1555.28" cy="681.37" r="10.2"/>
<circle cx="1562.68" cy="683.99" r="10.2"/>
<circle cx="1570.09" cy="686.48" r="10.2"/>
<circle cx="1577.5" cy="688.85" r="10.2"/>
<circle cx="1584.9" cy="691.12" r="10.2"/>
<circle cx="1599.71" cy="695.38" r="10.2"/>
<circle cx="1614.52" cy="699.31" r="10.2"/>
<circle cx="1629.33" cy="702.92" r="10.2"/>
<circle cx="1644.14" cy="706.19" r="10.2"/>
<circle cx="1658.95" cy="709.1" r="10.2"/>
<circle cx="1673.76" cy="711.64" r="10.2"/>
<circle cx="1703.38" cy="716.92" r="10.2"/>
<circle cx="1733" cy="719.18" r="10.2"/>
<circle cx="1762.62" cy="723.79" r="10.2"/>
<circle cx="1821.86" cy="725.93" r="10.2"/>
<circle cx="1881.1" cy="727.62" r="10.2"/>
<circle cx="2029.2" cy="730.77" r="10.2"/>
</g>
<polyline points="1288.7,80.17 1288.84,81.14 1289.12,83.1 1289.5,85.76 1289.97,89 1290.51,92.76 1291.13,96.96 1291.81,101.58 1292.55,106.58 1293.35,111.92 1294.2,117.59 1295.11,123.54 1296.06,129.77 1297.07,136.26 1298.12,142.97 1299.22,149.9 1300.37,157.03 1301.56,164.34 1302.79,171.81 1304.06,179.44 1305.37,187.2 1306.73,195.09 1308.12,203.09 1309.55,211.19 1311.02,219.37 1312.53,227.64 1314.07,235.96 1315.65,244.34 1317.26,252.76 1318.91,261.22 1320.6,269.7 1322.32,278.2 1324.07,286.7 1325.85,295.2 1327.67,303.7 1329.52,312.17 1331.4,320.62 1333.32,329.05 1335.26,337.43 1337.24,345.77 1339.24,354.06 1341.28,362.3 1343.35,370.47 1345.44,378.58 1347.57,386.61 1349.73,394.33 1351.91,401.92 1354.12,409.44 1356.36,416.88 1358.63,424.24 1360.93,431.52 1363.26,438.7 1365.61,445.8 1367.99,452.81 1370.4,459.72 1372.83,466.54 1375.29,473.26 1377.78,479.87 1380.29,486.39 1382.83,492.8 1385.4,499.1 1387.99,505.3 1390.6,511.39 1393.25,517.37 1395.92,523.24 1398.61,529 1401.33,534.66 1404.07,540.2 1406.84,545.63 1409.63,550.95 1412.44,556.17 1415.28,561.27 1418.15,566.26 1421.04,571.14 1423.95,575.91 1426.89,580.58 1429.85,585.14 1432.83,589.59 1435.84,593.93 1438.87,598.17 1441.92,602.3 1444.99,606.33 1448.09,610.26 1451.21,614.09 1454.36,617.82 1457.53,621.45 1460.71,624.98 1463.93,628.42 1467.16,631.76 1470.42,635.01 1473.69,638.17 1476.99,641.24 1480.31,644.22 1483.66,647.11 1487.02,649.92 1490.41,652.64 1493.82,655.29 1497.25,657.85 1500.7,660.33 1504.17,662.73 1507.66,665.06 1511.18,667.32 1514.71,669.5 1518.27,671.61 1521.84,673.65 1525.44,675.63 1529.06,677.54 1532.7,679.38 1536.35,681.16 1540.03,682.88 1543.73,684.54 1547.45,686.15 1551.19,687.69 1554.95,689.18 1558.73,690.62 1562.53,692 1566.35,693.34 1570.19,694.62 1574.05,695.86 1577.93,697.05 1581.83,698.2 1585.75,699.3 1589.68,700.36 1593.64,701.38 1597.62,702.36 1601.61,703.3 1605.63,704.2 1609.66,705.07 1613.72,705.9 1617.79,706.7 1621.88,707.46 1625.99,708.2 1630.12,708.9 1634.27,709.58 1638.43,710.22 1642.62,710.84 1646.82,711.44 1651.04,712 1655.29,712.54 1659.54,713.06 1663.82,713.56 1668.12,714.03 1672.43,714.49 1676.77,714.92 1681.12,715.33 1685.49,715.73 1689.87,716.1 1694.28,716.46 1698.7,716.81 1703.14,717.13 1707.6,717.45 1712.08,717.74 1716.58,718.02 1721.09,718.29 1725.62,718.55 1730.17,718.79 1734.73,719.03 1739.32,719.25 1743.92,719.46 1748.54,719.66 1753.17,719.85 1757.83,720.03 1762.5,720.2 1767.19,720.37 1771.89,720.52 1776.61,720.67 1781.35,720.82 1786.11,720.95 1790.88,721.08 1795.68,721.2 1800.48,721.31 1805.31,721.42 1810.15,721.52 1815.01,721.62 1819.89,721.71 1824.78,721.8 1829.69,721.88 1834.62,721.95 1839.56,722.03 1844.52,722.09 1849.5,722.16 1854.49,722.22 1859.5,722.27 1864.52,722.33 1869.57,722.38 1874.63,722.42 1879.7,722.47 1884.79,722.51 1889.9,722.55 1895.03,722.59 1900.17,722.62 1905.33,722.65 1910.5,722.68 1915.69,722.71 1920.9,722.74 1926.12,722.77 1931.36,722.79 1936.61,722.81 1941.88,722.83 1947.17,722.85 1952.47,722.87 1957.79,722.89 1963.12,722.9 1968.47,722.92 1973.84,722.93 1979.22,722.94 1984.61,722.96 1990.03,722.97 1995.46,722.98 2000.9,722.99 2006.36,723 2011.84,723.01 2017.33,723.01 2022.83,723.02 2028.36,723.03 2033.89,723.03 2039.45,723.04 2045.02,723.05 2050.6,723.05 2056.2,723.06 2061.82,723.06 2067.45,723.07 2073.09,723.07 2078.75,723.07 2084.43,723.08 2090.12,723.08 2095.83,723.08 2101.55,723.09 2107.29,723.09 2113.04,723.09 2118.8,723.09 2124.59,723.09 2130.38,723.1 2136.2,723.1 2142.02,723.1 2147.87,723.1 2153.72,723.1 2159.59,723.1 2165.48,723.1 2171.38,723.11 2177.3,723.11" fill="none" stroke="#0000ff" stroke-width="4.6" stroke-linejoin="round"/>
<g font-size="42" fill="#262626">
<text x="1288.7" y="788" text-anchor="middle">0</text>
<text x="1436.8" y="788" text-anchor="middle">5</text>
<text x="1584.9" y="788" text-anchor="middle">10</text>
<text x="1733" y="788" text-anchor="middle">15</text>
<text x="1881.1" y="788" text-anchor="middle">20</text>
<text x="2029.2" y="788" text-anchor="middle">25</text>
<text x="2177.3" y="788" text-anchor="middle">30</text>
<text x="1267.6" y="745" text-anchor="end">0</text>
<text x="1267.6" y="632.4" text-anchor="end">0.1</text>
<text x="1267.6" y="519.8" text-anchor="end">0.2</text>
<text x="1267.6" y="407.2" text-anchor="end">0.3</text>
<text x="1267.6" y="294.6" text-anchor="end">0.4</text>
<text x="1267.6" y="182" text-anchor="end">0.5</text>
<text x="1267.6" y="69.4" text-anchor="end">0.6</text>
<text x="1141" y="69.3" font-size="45.5" letter-spacing="-3.5">(B)</text>
<text x="1733" y="839" text-anchor="middle" font-size="42.5">Time delay (ps)</text>
<text transform="translate(1191 392) rotate(-90)" text-anchor="middle" font-size="44" letter-spacing="0.8"><tspan font-weight="normal">Δ</tspan>A (mOD)</text>
</g>
<g stroke="#a844e8" stroke-width="1.9" fill="none">
<circle cx="199.67" cy="905.91" r="11.2"/>
<circle cx="205.3" cy="919.96" r="11.2"/>
<circle cx="208.11" cy="924.64" r="11.2"/>
<circle cx="218.41" cy="916.21" r="11.2"/>
<circle cx="220.28" cy="923.71" r="11.2"/>
<circle cx="231.53" cy="932.14" r="11.2"/>
<circle cx="239.96" cy="946.19" r="11.2"/>
<circle cx="241.83" cy="967.74" r="11.2"/>
<circle cx="250.26" cy="970.55" r="11.2"/>
<circle cx="254.01" cy="961.18" r="11.2"/>
<circle cx="254.95" cy="970.55" r="11.2"/>
<circle cx="262.44" cy="987.41" r="11.2"/>
<circle cx="266.19" cy="989.29" r="11.2"/>
<circle cx="277.43" cy="978.98" r="11.2"/>
<circle cx="284.93" cy="991.16" r="11.2"/>
<circle cx="286.8" cy="1017.39" r="11.2"/>
<circle cx="294.3" cy="1009.9" r="11.2"/>
<circle cx="299.92" cy="1023.01" r="11.2"/>
<circle cx="303.66" cy="1034.26" r="11.2"/>
<circle cx="313.97" cy="1014.58" r="11.2"/>
<circle cx="318.65" cy="1023.01" r="11.2"/>
<circle cx="321.47" cy="1062.36" r="11.2"/>
<circle cx="328.02" cy="1052.99" r="11.2"/>
<circle cx="333.64" cy="1047.37" r="11.2"/>
<circle cx="339.27" cy="1069.86" r="11.2"/>
<circle cx="346.76" cy="1071.73" r="11.2"/>
<circle cx="353.32" cy="1078.29" r="11.2"/>
<circle cx="361.75" cy="1069.86" r="11.2"/>
<circle cx="367.37" cy="1082.97" r="11.2"/>
<circle cx="374.87" cy="1090.47" r="11.2"/>
<circle cx="380.49" cy="1107.33" r="11.2"/>
<circle cx="386.11" cy="1101.71" r="11.2"/>
<circle cx="396.41" cy="1096.09" r="11.2"/>
<circle cx="402.97" cy="1114.82" r="11.2"/>
<circle cx="408.59" cy="1134.5" r="11.2"/>
<circle cx="417.02" cy="1083.91" r="11.2"/>
<circle cx="423.58" cy="1148.55" r="11.2"/>
<circle cx="431.08" cy="1115.76" r="11.2"/>
<circle cx="438.57" cy="1121.38" r="11.2"/>
<circle cx="447.94" cy="1137.31" r="11.2"/>
<circle cx="455.44" cy="1142.93" r="11.2"/>
<circle cx="463.47" cy="1177.81" r="11.2"/>
<circle cx="498.7" cy="1167.69" r="11.2"/>
<circle cx="525.3" cy="1177.43" r="11.2"/>
<circle cx="489.33" cy="1198.04" r="11.2"/>
<circle cx="507.69" cy="1204.6" r="11.2"/>
<circle cx="472.46" cy="1216.78" r="11.2"/>
<circle cx="480.9" cy="1214.91" r="11.2"/>
<circle cx="542.73" cy="1223.34" r="11.2"/>
<circle cx="560.53" cy="1234.58" r="11.2"/>
<circle cx="576.45" cy="1260.25" r="11.2"/>
<circle cx="595.19" cy="1261.75" r="11.2"/>
<circle cx="629.86" cy="1259.88" r="11.2"/>
<circle cx="647.66" cy="1297.35" r="11.2"/>
<circle cx="612.62" cy="1315.71" r="11.2"/>
<circle cx="682.32" cy="1340.82" r="11.2"/>
<circle cx="717.36" cy="1310.09" r="11.2"/>
<circle cx="752.58" cy="1328.27" r="11.2"/>
<circle cx="822.31" cy="1499.11" r="11.2"/>
<circle cx="892.23" cy="1495.01" r="11.2"/>
<circle cx="1067.04" cy="1544.15" r="11.2"/>
</g>
<polyline points="193,897.98 199.99,905.99 206.98,913.93 213.98,921.8 220.97,929.61 227.96,937.34 234.95,945.01 241.95,952.62 248.94,960.15 255.93,967.63 262.92,975.03 269.92,982.38 276.91,989.66 283.9,996.87 290.89,1004.03 297.88,1011.12 304.88,1018.15 311.87,1025.12 318.86,1032.03 325.85,1038.88 332.85,1045.67 339.84,1052.4 346.83,1059.08 353.82,1065.69 360.82,1072.25 367.81,1078.75 374.8,1085.2 381.79,1091.59 388.78,1097.92 395.78,1104.2 402.77,1110.43 409.76,1116.6 416.75,1122.72 423.75,1128.78 430.74,1134.8 437.73,1140.76 444.72,1146.66 451.72,1152.52 458.71,1158.33 465.7,1164.09 472.69,1169.79 479.68,1175.45 486.68,1181.06 493.67,1186.62 500.66,1192.13 507.65,1197.59 514.65,1203.01 521.64,1208.38 528.63,1213.7 535.62,1218.98 542.62,1224.21 549.61,1229.4 556.6,1234.54 563.59,1239.64 570.58,1244.69 577.58,1249.7 584.57,1254.66 591.56,1259.59 598.55,1264.46 605.55,1269.3 612.54,1274.1 619.53,1278.85 626.52,1283.57 633.52,1288.24 640.51,1292.87 647.5,1297.46 654.49,1302.01 661.48,1306.53 668.48,1311 675.47,1315.43 682.46,1319.83 689.45,1324.19 696.45,1328.51 703.44,1332.79 710.43,1337.04 717.42,1341.25 724.42,1345.42 731.41,1349.56 738.4,1353.66 745.39,1357.72 752.38,1361.75 759.38,1365.75 766.37,1369.71 773.36,1373.64 780.35,1377.53 787.35,1381.39 794.34,1385.21 801.33,1389.01 808.32,1392.76 815.32,1396.49 822.31,1400.19 829.3,1403.85 836.29,1407.48 843.28,1411.08 850.28,1414.65 857.27,1418.18 864.26,1421.69 871.25,1425.17 878.25,1428.61 885.24,1432.03 892.23,1435.42 899.22,1438.78 906.22,1442.1 913.21,1445.4 920.2,1448.67 927.19,1451.92 934.18,1455.13 941.18,1458.32 948.17,1461.48 955.16,1464.61 962.15,1467.71 969.15,1470.79 976.14,1473.84 983.13,1476.87 990.12,1479.87 997.12,1482.84 1004.11,1485.79 1011.1,1488.71 1018.09,1491.6 1025.08,1494.48 1032.08,1497.32 1039.07,1500.14 1046.06,1502.94 1053.05,1505.71 1060.05,1508.46 1067.04,1511.19 1074.03,1513.89 1081.02,1516.57 1088.02,1519.22 1095.01,1521.85 1102,1524.46" fill="none" stroke="#ff0000" stroke-width="3.2"/>
<g stroke="#000" stroke-width="3.2" fill="none">
<path d="M179 877.5H1103.6 M179 1608.8H1103.6 M193 877.5V1622.8 M1102 877.5V1608.8"/>
<path d="M193 1535.67h-6.5M1102 1535.67h-6.5M193 1462.54h-13.5M1102 1462.54h-13.5M193 1389.41h-6.5M1102 1389.41h-6.5M193 1316.28h-13.5M1102 1316.28h-13.5M193 1243.15h-6.5M1102 1243.15h-6.5M193 1170.02h-13.5M1102 1170.02h-13.5M193 1096.89h-6.5M1102 1096.89h-6.5M193 1023.76h-13.5M1102 1023.76h-13.5M193 950.63h-6.5M1102 950.63h-6.5M280.4 1608.8v6.5M280.4 877.5v6.5M367.81 1608.8v13.5M367.81 877.5v13.5M455.21 1608.8v6.5M455.21 877.5v6.5M542.62 1608.8v13.5M542.62 877.5v13.5M630.02 1608.8v6.5M630.02 877.5v6.5M717.42 1608.8v13.5M717.42 877.5v13.5M804.83 1608.8v6.5M804.83 877.5v6.5M892.23 1608.8v13.5M892.23 877.5v13.5M979.63 1608.8v6.5M979.63 877.5v6.5M1067.04 1608.8v13.5M1067.04 877.5v13.5" stroke-width="2.6" stroke="#222"/>
</g>
<g font-size="38" fill="#000">
<text x="193" y="1662.5" text-anchor="middle">0</text>
<text x="367.81" y="1662.5" text-anchor="middle">5</text>
<text x="542.62" y="1662.5" text-anchor="middle">10</text>
<text x="717.42" y="1662.5" text-anchor="middle">15</text>
<text x="892.23" y="1662.5" text-anchor="middle">20</text>
<text x="1067.04" y="1662.5" text-anchor="middle">25</text>
<text x="168" y="1620.8" text-anchor="end">0.10</text>
<text x="168" y="1474.54" text-anchor="end">0.15</text>
<text x="168" y="1328.28" text-anchor="end">0.20</text>
<text x="168" y="1182.02" text-anchor="end">0.25</text>
<text x="168" y="1035.76" text-anchor="end">0.30</text>
<text x="168" y="889.5" text-anchor="end">0.35</text>
<text x="48.5" y="890.5" font-size="37.5" letter-spacing="-1.7" style="font-weight:normal">(C)</text>
<text x="647.7" y="1724.5" text-anchor="middle" font-size="38.1">Time Delay(ps)</text>
<text transform="translate(78.8 1243) rotate(-90)" text-anchor="middle" font-size="38.4"><tspan font-style="italic">r(t)</tspan>(a.u.)</text>
</g>
</svg>
</body></html>
